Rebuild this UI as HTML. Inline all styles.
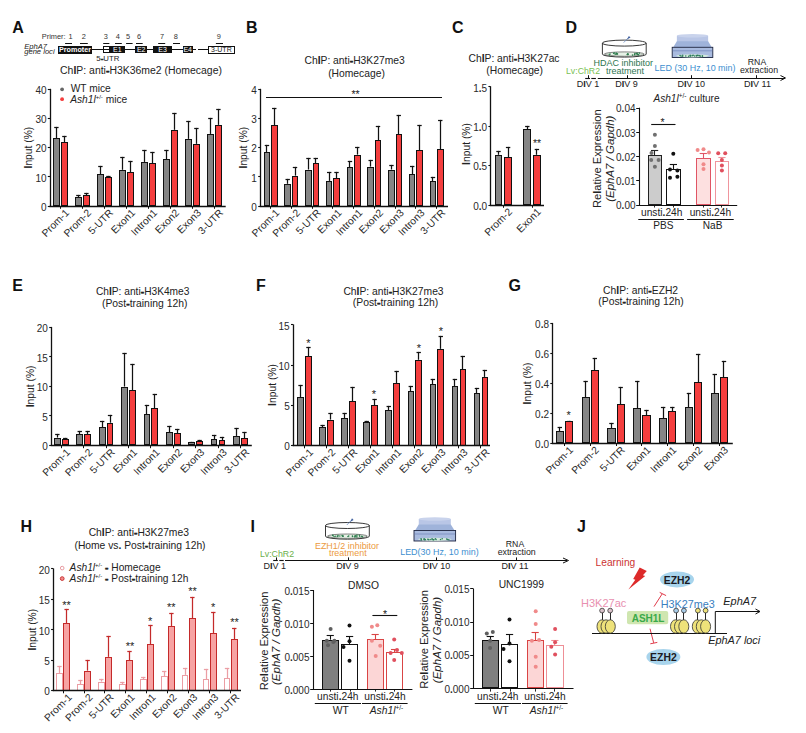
<!DOCTYPE html><html><head><meta charset="utf-8"><style>html,body{margin:0;padding:0;background:#fff;width:806px;height:733px;overflow:hidden}svg{display:block}</style></head><body><svg width="806" height="733" viewBox="0 0 806 733" font-family='"Liberation Sans", sans-serif'>
<rect width="806" height="733" fill="#fff"/>
<text x="12.20" y="32.60" font-size="16" text-anchor="start" font-weight="bold" font-style="normal" fill="#111" >A</text>
<text x="246.00" y="33.00" font-size="16" text-anchor="start" font-weight="bold" font-style="normal" fill="#111" >B</text>
<text x="452.00" y="32.50" font-size="16" text-anchor="start" font-weight="bold" font-style="normal" fill="#111" >C</text>
<text x="565.50" y="32.90" font-size="16" text-anchor="start" font-weight="bold" font-style="normal" fill="#111" >D</text>
<text x="12.20" y="291.00" font-size="16" text-anchor="start" font-weight="bold" font-style="normal" fill="#111" >E</text>
<text x="256.00" y="291.00" font-size="16" text-anchor="start" font-weight="bold" font-style="normal" fill="#111" >F</text>
<text x="508.50" y="291.00" font-size="16" text-anchor="start" font-weight="bold" font-style="normal" fill="#111" >G</text>
<text x="20.60" y="531.80" font-size="16" text-anchor="start" font-weight="bold" font-style="normal" fill="#111" >H</text>
<text x="250.50" y="532.00" font-size="16" text-anchor="start" font-weight="bold" font-style="normal" fill="#111" >I</text>
<text x="577.00" y="531.80" font-size="16" text-anchor="start" font-weight="bold" font-style="normal" fill="#111" >J</text>
<text x="41.80" y="39.20" font-size="7.4" text-anchor="start" font-weight="normal" font-style="normal" fill="#333" >Primer:</text>
<text x="70.50" y="39.30" font-size="7.4" text-anchor="middle" font-weight="normal" font-style="normal" fill="#333" >1</text>
<text x="83.80" y="39.30" font-size="7.4" text-anchor="middle" font-weight="normal" font-style="normal" fill="#333" >2</text>
<text x="105.70" y="39.30" font-size="7.4" text-anchor="middle" font-weight="normal" font-style="normal" fill="#333" >3</text>
<text x="117.70" y="39.30" font-size="7.4" text-anchor="middle" font-weight="normal" font-style="normal" fill="#333" >4</text>
<text x="128.00" y="39.30" font-size="7.4" text-anchor="middle" font-weight="normal" font-style="normal" fill="#333" >5</text>
<text x="139.10" y="39.30" font-size="7.4" text-anchor="middle" font-weight="normal" font-style="normal" fill="#333" >6</text>
<text x="162.00" y="39.30" font-size="7.4" text-anchor="middle" font-weight="normal" font-style="normal" fill="#333" >7</text>
<text x="175.90" y="39.30" font-size="7.4" text-anchor="middle" font-weight="normal" font-style="normal" fill="#333" >8</text>
<text x="218.90" y="39.30" font-size="7.4" text-anchor="middle" font-weight="normal" font-style="normal" fill="#333" >9</text>
<line x1="65.10" y1="43.50" x2="72.00" y2="43.50" stroke="#111" stroke-width="1" />
<line x1="80.00" y1="43.50" x2="87.80" y2="43.50" stroke="#111" stroke-width="1" />
<line x1="103.20" y1="43.50" x2="109.40" y2="43.50" stroke="#111" stroke-width="1" />
<line x1="115.00" y1="43.50" x2="121.80" y2="43.50" stroke="#111" stroke-width="1" />
<line x1="126.10" y1="43.50" x2="132.60" y2="43.50" stroke="#111" stroke-width="1" />
<line x1="136.00" y1="43.50" x2="142.70" y2="43.50" stroke="#111" stroke-width="1" />
<line x1="158.20" y1="43.50" x2="165.20" y2="43.50" stroke="#111" stroke-width="1" />
<line x1="173.00" y1="43.50" x2="180.00" y2="43.50" stroke="#111" stroke-width="1" />
<line x1="215.90" y1="43.50" x2="223.00" y2="43.50" stroke="#111" stroke-width="1" />
<text x="24.20" y="48.60" font-size="7.6" text-anchor="start" font-weight="normal" font-style="italic" fill="#222" >EphA7</text>
<text x="24.20" y="54.00" font-size="7.6" text-anchor="start" font-weight="normal" font-style="italic" fill="#222" >gene loci</text>
<line x1="91.80" y1="49.50" x2="192.80" y2="49.50" stroke="#111" stroke-width="1" />
<line x1="192.80" y1="49.50" x2="196.00" y2="49.50" stroke="#111" stroke-width="1" />
<line x1="198.00" y1="49.50" x2="208.00" y2="49.50" stroke="#111" stroke-width="1" />
<rect x="58.50" y="46.50" width="33.00" height="7.00" fill="#111" stroke="#111" stroke-width="1.0"/>
<text x="75.00" y="52.30" font-size="7.2" text-anchor="middle" font-weight="bold" font-style="normal" fill="#fff" >Promoter</text>
<rect x="103.50" y="46.50" width="6.00" height="6.00" fill="#fff" stroke="#111" stroke-width="1.0"/>
<line x1="103.20" y1="49.50" x2="109.90" y2="49.50" stroke="#111" stroke-width="1" />
<rect x="110.50" y="46.50" width="14.00" height="6.00" fill="#111" stroke="#111" stroke-width="1.0"/>
<text x="117.40" y="52.20" font-size="7" text-anchor="middle" font-weight="normal" font-style="normal" fill="#fff" >E1</text>
<rect x="135.50" y="46.50" width="11.00" height="6.00" fill="#111" stroke="#111" stroke-width="1.0"/>
<text x="141.20" y="52.20" font-size="7" text-anchor="middle" font-weight="normal" font-style="normal" fill="#fff" >E2</text>
<rect x="153.50" y="46.50" width="18.00" height="6.00" fill="#111" stroke="#111" stroke-width="1.0"/>
<text x="162.50" y="52.20" font-size="7" text-anchor="middle" font-weight="normal" font-style="normal" fill="#fff" >E3</text>
<rect x="183.50" y="46.50" width="9.00" height="6.00" fill="#111" stroke="#111" stroke-width="1.0"/>
<text x="187.70" y="52.20" font-size="7" text-anchor="middle" font-weight="normal" font-style="normal" fill="#fff" >E4</text>
<rect x="208.50" y="46.50" width="26.00" height="7.00" fill="#fff" stroke="#111" stroke-width="1.0"/>
<text x="221.40" y="52.40" font-size="7" text-anchor="middle" font-weight="normal" font-style="normal" fill="#222" >3-UTR</text>
<text x="107.80" y="61.20" font-size="7.8" text-anchor="middle" font-weight="normal" font-style="normal" fill="#222" >5<tspan font-weight="bold" stroke="#222" stroke-width="0.5">-</tspan>UTR</text>
<text x="141.00" y="74.40" font-size="10.45" text-anchor="middle" font-weight="normal" font-style="normal" fill="#222" >Ch<tspan font-weight="bold">I</tspan>P: anti<tspan font-weight="bold" stroke="#222" stroke-width="0.5">-</tspan>H3K36me2 (Homecage)</text>
<circle cx="62.1" cy="89.3" r="1.9" fill="#666"/>
<circle cx="62.1" cy="99.2" r="1.9" fill="#f43e3e"/>
<text x="70.70" y="92.30" font-size="10.2" text-anchor="start" font-weight="normal" font-style="normal" fill="#222" >WT mice</text>
<text x="70.20" y="102.50" font-size="10.2" text-anchor="start" font-weight="normal" font-style="normal" fill="#222" ><tspan font-style="italic">Ash1l</tspan><tspan font-size="6" dy="-4">+/-</tspan><tspan dy="4"> mice</tspan></text>
<line x1="56.50" y1="138.02" x2="56.50" y2="126.90" stroke="#111" stroke-width="1.25"/>
<line x1="54.20" y1="127.50" x2="58.60" y2="127.50" stroke="#111" stroke-width="1.25" />
<rect x="53.50" y="138.50" width="6.00" height="67.00" fill="#858585" stroke="#111" stroke-width="1.0"/>
<line x1="78.50" y1="196.96" x2="78.50" y2="194.90" stroke="#111" stroke-width="1.25"/>
<line x1="76.20" y1="195.50" x2="80.60" y2="195.50" stroke="#111" stroke-width="1.25" />
<rect x="75.50" y="197.50" width="6.00" height="8.00" fill="#858585" stroke="#111" stroke-width="1.0"/>
<line x1="100.50" y1="174.20" x2="100.50" y2="165.90" stroke="#111" stroke-width="1.25"/>
<line x1="98.20" y1="166.50" x2="102.60" y2="166.50" stroke="#111" stroke-width="1.25" />
<rect x="97.50" y="174.50" width="6.00" height="31.00" fill="#858585" stroke="#111" stroke-width="1.0"/>
<line x1="122.50" y1="169.82" x2="122.50" y2="156.90" stroke="#111" stroke-width="1.25"/>
<line x1="120.20" y1="157.50" x2="124.60" y2="157.50" stroke="#111" stroke-width="1.25" />
<rect x="119.50" y="170.50" width="6.00" height="35.00" fill="#858585" stroke="#111" stroke-width="1.0"/>
<line x1="144.50" y1="161.95" x2="144.50" y2="149.90" stroke="#111" stroke-width="1.25"/>
<line x1="142.20" y1="150.50" x2="146.60" y2="150.50" stroke="#111" stroke-width="1.25" />
<rect x="141.50" y="162.50" width="6.00" height="43.00" fill="#858585" stroke="#111" stroke-width="1.0"/>
<line x1="166.50" y1="159.03" x2="166.50" y2="149.90" stroke="#111" stroke-width="1.25"/>
<line x1="164.20" y1="150.50" x2="168.60" y2="150.50" stroke="#111" stroke-width="1.25" />
<rect x="163.50" y="159.50" width="6.00" height="46.00" fill="#858585" stroke="#111" stroke-width="1.0"/>
<line x1="188.50" y1="138.90" x2="188.50" y2="120.90" stroke="#111" stroke-width="1.25"/>
<line x1="186.20" y1="121.50" x2="190.60" y2="121.50" stroke="#111" stroke-width="1.25" />
<rect x="185.50" y="139.50" width="6.00" height="66.00" fill="#858585" stroke="#111" stroke-width="1.0"/>
<line x1="210.50" y1="133.94" x2="210.50" y2="117.90" stroke="#111" stroke-width="1.25"/>
<line x1="208.20" y1="118.50" x2="212.60" y2="118.50" stroke="#111" stroke-width="1.25" />
<rect x="207.50" y="134.50" width="6.00" height="71.00" fill="#858585" stroke="#111" stroke-width="1.0"/>
<line x1="64.50" y1="142.11" x2="64.50" y2="135.90" stroke="#111" stroke-width="1.25"/>
<line x1="62.20" y1="136.50" x2="66.60" y2="136.50" stroke="#111" stroke-width="1.25" />
<rect x="61.50" y="142.50" width="6.00" height="63.00" fill="#f43e3e" stroke="#111" stroke-width="1.0"/>
<line x1="86.50" y1="195.21" x2="86.50" y2="192.90" stroke="#111" stroke-width="1.25"/>
<line x1="84.20" y1="193.50" x2="88.60" y2="193.50" stroke="#111" stroke-width="1.25" />
<rect x="83.50" y="195.50" width="6.00" height="10.00" fill="#f43e3e" stroke="#111" stroke-width="1.0"/>
<line x1="108.50" y1="177.12" x2="108.50" y2="175.90" stroke="#111" stroke-width="1.25"/>
<line x1="106.20" y1="176.50" x2="110.60" y2="176.50" stroke="#111" stroke-width="1.25" />
<rect x="105.50" y="177.50" width="6.00" height="28.00" fill="#f43e3e" stroke="#111" stroke-width="1.0"/>
<line x1="130.50" y1="172.16" x2="130.50" y2="160.90" stroke="#111" stroke-width="1.25"/>
<line x1="128.20" y1="161.50" x2="132.60" y2="161.50" stroke="#111" stroke-width="1.25" />
<rect x="127.50" y="172.50" width="6.00" height="33.00" fill="#f43e3e" stroke="#111" stroke-width="1.0"/>
<line x1="152.50" y1="163.11" x2="152.50" y2="151.90" stroke="#111" stroke-width="1.25"/>
<line x1="150.20" y1="152.50" x2="154.60" y2="152.50" stroke="#111" stroke-width="1.25" />
<rect x="149.50" y="163.50" width="6.00" height="42.00" fill="#f43e3e" stroke="#111" stroke-width="1.0"/>
<line x1="174.50" y1="129.85" x2="174.50" y2="112.90" stroke="#111" stroke-width="1.25"/>
<line x1="172.20" y1="113.50" x2="176.60" y2="113.50" stroke="#111" stroke-width="1.25" />
<rect x="171.50" y="130.50" width="6.00" height="75.00" fill="#f43e3e" stroke="#111" stroke-width="1.0"/>
<line x1="196.50" y1="143.86" x2="196.50" y2="127.90" stroke="#111" stroke-width="1.25"/>
<line x1="194.20" y1="128.50" x2="198.60" y2="128.50" stroke="#111" stroke-width="1.25" />
<rect x="193.50" y="144.50" width="6.00" height="61.00" fill="#f43e3e" stroke="#111" stroke-width="1.0"/>
<line x1="218.50" y1="124.89" x2="218.50" y2="108.90" stroke="#111" stroke-width="1.25"/>
<line x1="216.20" y1="109.50" x2="220.60" y2="109.50" stroke="#111" stroke-width="1.25" />
<rect x="215.50" y="125.50" width="6.00" height="80.00" fill="#f43e3e" stroke="#111" stroke-width="1.0"/>
<line x1="50.50" y1="88.80" x2="50.50" y2="206.60" stroke="#111" stroke-width="1.3" />
<line x1="49.40" y1="206.50" x2="225.70" y2="206.50" stroke="#111" stroke-width="1.3" />
<line x1="47.80" y1="206.50" x2="50.00" y2="206.50" stroke="#111" stroke-width="1.1" />
<text x="46.50" y="210.80" font-size="10" text-anchor="end" font-weight="normal" font-style="normal" fill="#2a2a2a" >0</text>
<line x1="47.80" y1="176.50" x2="50.00" y2="176.50" stroke="#111" stroke-width="1.1" />
<text x="46.50" y="181.62" font-size="10" text-anchor="end" font-weight="normal" font-style="normal" fill="#2a2a2a" >10</text>
<line x1="47.80" y1="147.50" x2="50.00" y2="147.50" stroke="#111" stroke-width="1.1" />
<text x="46.50" y="152.45" font-size="10" text-anchor="end" font-weight="normal" font-style="normal" fill="#2a2a2a" >20</text>
<line x1="47.80" y1="118.50" x2="50.00" y2="118.50" stroke="#111" stroke-width="1.1" />
<text x="46.50" y="123.27" font-size="10" text-anchor="end" font-weight="normal" font-style="normal" fill="#2a2a2a" >30</text>
<line x1="47.80" y1="89.50" x2="50.00" y2="89.50" stroke="#111" stroke-width="1.1" />
<text x="46.50" y="94.10" font-size="10" text-anchor="end" font-weight="normal" font-style="normal" fill="#2a2a2a" >40</text>
<line x1="60.50" y1="206.00" x2="60.50" y2="208.80" stroke="#111" stroke-width="1" />
<line x1="82.50" y1="206.00" x2="82.50" y2="208.80" stroke="#111" stroke-width="1" />
<line x1="104.50" y1="206.00" x2="104.50" y2="208.80" stroke="#111" stroke-width="1" />
<line x1="126.50" y1="206.00" x2="126.50" y2="208.80" stroke="#111" stroke-width="1" />
<line x1="148.50" y1="206.00" x2="148.50" y2="208.80" stroke="#111" stroke-width="1" />
<line x1="170.50" y1="206.00" x2="170.50" y2="208.80" stroke="#111" stroke-width="1" />
<line x1="192.50" y1="206.00" x2="192.50" y2="208.80" stroke="#111" stroke-width="1" />
<line x1="214.50" y1="206.00" x2="214.50" y2="208.80" stroke="#111" stroke-width="1" />
<text transform="translate(69.80,213.50) rotate(-45)" font-size="10.3" text-anchor="end" fill="#2a2a2a">Prom-1</text>
<text transform="translate(91.80,213.50) rotate(-45)" font-size="10.3" text-anchor="end" fill="#2a2a2a">Prom-2</text>
<text transform="translate(113.80,213.50) rotate(-45)" font-size="10.3" text-anchor="end" fill="#2a2a2a">5-UTR</text>
<text transform="translate(135.80,213.50) rotate(-45)" font-size="10.3" text-anchor="end" fill="#2a2a2a">Exon1</text>
<text transform="translate(157.80,213.50) rotate(-45)" font-size="10.3" text-anchor="end" fill="#2a2a2a">Intron1</text>
<text transform="translate(179.80,213.50) rotate(-45)" font-size="10.3" text-anchor="end" fill="#2a2a2a">Exon2</text>
<text transform="translate(201.80,213.50) rotate(-45)" font-size="10.3" text-anchor="end" fill="#2a2a2a">Exon3</text>
<text transform="translate(223.80,213.50) rotate(-45)" font-size="10.3" text-anchor="end" fill="#2a2a2a">3-UTR</text>
<text transform="translate(31.51,147.60) rotate(-90)" font-size="10.3" text-anchor="middle" font-style="normal" fill="#222"><tspan font-weight="bold">I</tspan>nput (%)</text>
<text x="354.60" y="64.00" font-size="10.3" text-anchor="middle" font-weight="normal" font-style="normal" fill="#222" >Ch<tspan font-weight="bold">I</tspan>P: anti<tspan font-weight="bold" stroke="#222" stroke-width="0.5">-</tspan>H3K27me3</text>
<text x="356.50" y="76.90" font-size="10.3" text-anchor="middle" font-weight="normal" font-style="normal" fill="#222" >(Homecage)</text>
<line x1="266.50" y1="152.32" x2="266.50" y2="144.90" stroke="#111" stroke-width="1.25"/>
<line x1="264.75" y1="145.50" x2="269.15" y2="145.50" stroke="#111" stroke-width="1.25" />
<rect x="264.50" y="152.50" width="5.00" height="53.00" fill="#858585" stroke="#111" stroke-width="1.0"/>
<line x1="287.50" y1="183.83" x2="287.50" y2="178.90" stroke="#111" stroke-width="1.25"/>
<line x1="285.50" y1="179.50" x2="289.90" y2="179.50" stroke="#111" stroke-width="1.25" />
<rect x="284.50" y="184.50" width="6.00" height="21.00" fill="#858585" stroke="#111" stroke-width="1.0"/>
<line x1="308.50" y1="169.53" x2="308.50" y2="157.90" stroke="#111" stroke-width="1.25"/>
<line x1="306.25" y1="158.50" x2="310.65" y2="158.50" stroke="#111" stroke-width="1.25" />
<rect x="305.50" y="170.50" width="6.00" height="35.00" fill="#858585" stroke="#111" stroke-width="1.0"/>
<line x1="329.50" y1="180.91" x2="329.50" y2="171.90" stroke="#111" stroke-width="1.25"/>
<line x1="327.00" y1="172.50" x2="331.40" y2="172.50" stroke="#111" stroke-width="1.25" />
<rect x="326.50" y="181.50" width="5.00" height="24.00" fill="#858585" stroke="#111" stroke-width="1.0"/>
<line x1="349.50" y1="167.49" x2="349.50" y2="160.90" stroke="#111" stroke-width="1.25"/>
<line x1="347.75" y1="161.50" x2="352.15" y2="161.50" stroke="#111" stroke-width="1.25" />
<rect x="347.50" y="167.50" width="5.00" height="38.00" fill="#858585" stroke="#111" stroke-width="1.0"/>
<line x1="370.50" y1="166.61" x2="370.50" y2="159.90" stroke="#111" stroke-width="1.25"/>
<line x1="368.50" y1="160.50" x2="372.90" y2="160.50" stroke="#111" stroke-width="1.25" />
<rect x="367.50" y="167.50" width="6.00" height="38.00" fill="#858585" stroke="#111" stroke-width="1.0"/>
<line x1="391.50" y1="169.53" x2="391.50" y2="164.90" stroke="#111" stroke-width="1.25"/>
<line x1="389.25" y1="165.50" x2="393.65" y2="165.50" stroke="#111" stroke-width="1.25" />
<rect x="388.50" y="170.50" width="6.00" height="35.00" fill="#858585" stroke="#111" stroke-width="1.0"/>
<line x1="412.50" y1="174.49" x2="412.50" y2="165.90" stroke="#111" stroke-width="1.25"/>
<line x1="410.00" y1="166.50" x2="414.40" y2="166.50" stroke="#111" stroke-width="1.25" />
<rect x="409.50" y="174.50" width="5.00" height="31.00" fill="#858585" stroke="#111" stroke-width="1.0"/>
<line x1="432.50" y1="181.49" x2="432.50" y2="176.90" stroke="#111" stroke-width="1.25"/>
<line x1="430.75" y1="177.50" x2="435.15" y2="177.50" stroke="#111" stroke-width="1.25" />
<rect x="430.50" y="181.50" width="5.00" height="24.00" fill="#858585" stroke="#111" stroke-width="1.0"/>
<line x1="274.50" y1="125.19" x2="274.50" y2="107.90" stroke="#111" stroke-width="1.25"/>
<line x1="272.05" y1="108.50" x2="276.45" y2="108.50" stroke="#111" stroke-width="1.25" />
<rect x="271.50" y="125.50" width="6.00" height="80.00" fill="#f43e3e" stroke="#111" stroke-width="1.0"/>
<line x1="295.50" y1="175.66" x2="295.50" y2="166.90" stroke="#111" stroke-width="1.25"/>
<line x1="292.80" y1="167.50" x2="297.20" y2="167.50" stroke="#111" stroke-width="1.25" />
<rect x="292.50" y="176.50" width="5.00" height="29.00" fill="#f43e3e" stroke="#111" stroke-width="1.0"/>
<line x1="315.50" y1="163.40" x2="315.50" y2="157.90" stroke="#111" stroke-width="1.25"/>
<line x1="313.55" y1="158.50" x2="317.95" y2="158.50" stroke="#111" stroke-width="1.25" />
<rect x="313.50" y="163.50" width="5.00" height="42.00" fill="#f43e3e" stroke="#111" stroke-width="1.0"/>
<line x1="336.50" y1="177.99" x2="336.50" y2="171.90" stroke="#111" stroke-width="1.25"/>
<line x1="334.30" y1="172.50" x2="338.70" y2="172.50" stroke="#111" stroke-width="1.25" />
<rect x="333.50" y="178.50" width="6.00" height="27.00" fill="#f43e3e" stroke="#111" stroke-width="1.0"/>
<line x1="357.50" y1="154.65" x2="357.50" y2="146.90" stroke="#111" stroke-width="1.25"/>
<line x1="355.05" y1="147.50" x2="359.45" y2="147.50" stroke="#111" stroke-width="1.25" />
<rect x="354.50" y="155.50" width="6.00" height="50.00" fill="#f43e3e" stroke="#111" stroke-width="1.0"/>
<line x1="378.50" y1="140.36" x2="378.50" y2="125.90" stroke="#111" stroke-width="1.25"/>
<line x1="375.80" y1="126.50" x2="380.20" y2="126.50" stroke="#111" stroke-width="1.25" />
<rect x="375.50" y="140.50" width="5.00" height="65.00" fill="#f43e3e" stroke="#111" stroke-width="1.0"/>
<line x1="398.50" y1="134.23" x2="398.50" y2="114.90" stroke="#111" stroke-width="1.25"/>
<line x1="396.55" y1="115.50" x2="400.95" y2="115.50" stroke="#111" stroke-width="1.25" />
<rect x="396.50" y="134.50" width="5.00" height="71.00" fill="#f43e3e" stroke="#111" stroke-width="1.0"/>
<line x1="419.50" y1="150.28" x2="419.50" y2="124.90" stroke="#111" stroke-width="1.25"/>
<line x1="417.30" y1="125.50" x2="421.70" y2="125.50" stroke="#111" stroke-width="1.25" />
<rect x="416.50" y="150.50" width="6.00" height="55.00" fill="#f43e3e" stroke="#111" stroke-width="1.0"/>
<line x1="440.50" y1="149.40" x2="440.50" y2="119.90" stroke="#111" stroke-width="1.25"/>
<line x1="438.05" y1="120.50" x2="442.45" y2="120.50" stroke="#111" stroke-width="1.25" />
<rect x="437.50" y="149.50" width="6.00" height="56.00" fill="#f43e3e" stroke="#111" stroke-width="1.0"/>
<line x1="260.50" y1="88.80" x2="260.50" y2="206.60" stroke="#111" stroke-width="1.3" />
<line x1="259.80" y1="206.50" x2="448.00" y2="206.50" stroke="#111" stroke-width="1.3" />
<line x1="258.20" y1="206.50" x2="260.40" y2="206.50" stroke="#111" stroke-width="1.1" />
<text x="256.90" y="210.80" font-size="10" text-anchor="end" font-weight="normal" font-style="normal" fill="#2a2a2a" >0</text>
<line x1="258.20" y1="176.50" x2="260.40" y2="176.50" stroke="#111" stroke-width="1.1" />
<text x="256.90" y="181.62" font-size="10" text-anchor="end" font-weight="normal" font-style="normal" fill="#2a2a2a" >1</text>
<line x1="258.20" y1="147.50" x2="260.40" y2="147.50" stroke="#111" stroke-width="1.1" />
<text x="256.90" y="152.45" font-size="10" text-anchor="end" font-weight="normal" font-style="normal" fill="#2a2a2a" >2</text>
<line x1="258.20" y1="118.50" x2="260.40" y2="118.50" stroke="#111" stroke-width="1.1" />
<text x="256.90" y="123.27" font-size="10" text-anchor="end" font-weight="normal" font-style="normal" fill="#2a2a2a" >3</text>
<line x1="258.20" y1="89.50" x2="260.40" y2="89.50" stroke="#111" stroke-width="1.1" />
<text x="256.90" y="94.10" font-size="10" text-anchor="end" font-weight="normal" font-style="normal" fill="#2a2a2a" >4</text>
<line x1="270.50" y1="206.00" x2="270.50" y2="208.80" stroke="#111" stroke-width="1" />
<line x1="291.50" y1="206.00" x2="291.50" y2="208.80" stroke="#111" stroke-width="1" />
<line x1="312.50" y1="206.00" x2="312.50" y2="208.80" stroke="#111" stroke-width="1" />
<line x1="332.50" y1="206.00" x2="332.50" y2="208.80" stroke="#111" stroke-width="1" />
<line x1="353.50" y1="206.00" x2="353.50" y2="208.80" stroke="#111" stroke-width="1" />
<line x1="374.50" y1="206.00" x2="374.50" y2="208.80" stroke="#111" stroke-width="1" />
<line x1="395.50" y1="206.00" x2="395.50" y2="208.80" stroke="#111" stroke-width="1" />
<line x1="415.50" y1="206.00" x2="415.50" y2="208.80" stroke="#111" stroke-width="1" />
<line x1="436.50" y1="206.00" x2="436.50" y2="208.80" stroke="#111" stroke-width="1" />
<text transform="translate(280.00,213.50) rotate(-45)" font-size="10.3" text-anchor="end" fill="#2a2a2a">Prom-1</text>
<text transform="translate(300.75,213.50) rotate(-45)" font-size="10.3" text-anchor="end" fill="#2a2a2a">Prom-2</text>
<text transform="translate(321.50,213.50) rotate(-45)" font-size="10.3" text-anchor="end" fill="#2a2a2a">5-UTR</text>
<text transform="translate(342.25,213.50) rotate(-45)" font-size="10.3" text-anchor="end" fill="#2a2a2a">Exon1</text>
<text transform="translate(363.00,213.50) rotate(-45)" font-size="10.3" text-anchor="end" fill="#2a2a2a">Intron1</text>
<text transform="translate(383.75,213.50) rotate(-45)" font-size="10.3" text-anchor="end" fill="#2a2a2a">Exon2</text>
<text transform="translate(404.50,213.50) rotate(-45)" font-size="10.3" text-anchor="end" fill="#2a2a2a">Exon3</text>
<text transform="translate(425.25,213.50) rotate(-45)" font-size="10.3" text-anchor="end" fill="#2a2a2a">Intron3</text>
<text transform="translate(446.00,213.50) rotate(-45)" font-size="10.3" text-anchor="end" fill="#2a2a2a">3-UTR</text>
<line x1="266.00" y1="97.50" x2="442.00" y2="97.50" stroke="#111" stroke-width="1.1" />
<text x="355.50" y="98.40" font-size="10.5" text-anchor="middle" font-weight="normal" font-style="normal" fill="#222" >**</text>
<text transform="translate(247.31,147.60) rotate(-90)" font-size="10.3" text-anchor="middle" font-style="normal" fill="#222"><tspan font-weight="bold">I</tspan>nput (%)</text>
<text x="514.00" y="61.50" font-size="10.3" text-anchor="middle" font-weight="normal" font-style="normal" fill="#222" >Ch<tspan font-weight="bold">I</tspan>P: anti<tspan font-weight="bold" stroke="#222" stroke-width="0.5">-</tspan>H3K27ac</text>
<text x="514.70" y="73.80" font-size="10.3" text-anchor="middle" font-weight="normal" font-style="normal" fill="#222" >(Homecage)</text>
<line x1="498.50" y1="154.80" x2="498.50" y2="150.90" stroke="#111" stroke-width="1.25"/>
<line x1="496.30" y1="151.50" x2="500.70" y2="151.50" stroke="#111" stroke-width="1.25" />
<rect x="495.50" y="155.50" width="6.00" height="49.00" fill="#858585" stroke="#111" stroke-width="1.0"/>
<line x1="527.50" y1="129.19" x2="527.50" y2="125.90" stroke="#111" stroke-width="1.25"/>
<line x1="525.10" y1="126.50" x2="529.50" y2="126.50" stroke="#111" stroke-width="1.25" />
<rect x="523.50" y="129.50" width="7.00" height="75.00" fill="#858585" stroke="#111" stroke-width="1.0"/>
<line x1="508.50" y1="157.17" x2="508.50" y2="146.90" stroke="#111" stroke-width="1.25"/>
<line x1="505.90" y1="147.50" x2="510.30" y2="147.50" stroke="#111" stroke-width="1.25" />
<rect x="504.50" y="157.50" width="7.00" height="47.00" fill="#f43e3e" stroke="#111" stroke-width="1.0"/>
<line x1="536.50" y1="154.80" x2="536.50" y2="148.90" stroke="#111" stroke-width="1.25"/>
<line x1="534.70" y1="149.50" x2="539.10" y2="149.50" stroke="#111" stroke-width="1.25" />
<rect x="533.50" y="155.50" width="7.00" height="49.00" fill="#f43e3e" stroke="#111" stroke-width="1.0"/>
<line x1="490.50" y1="86.30" x2="490.50" y2="205.60" stroke="#111" stroke-width="1.3" />
<line x1="490.00" y1="205.50" x2="544.00" y2="205.50" stroke="#111" stroke-width="1.3" />
<line x1="488.40" y1="205.50" x2="490.60" y2="205.50" stroke="#111" stroke-width="1.1" />
<text x="487.10" y="209.80" font-size="10" text-anchor="end" font-weight="normal" font-style="normal" fill="#2a2a2a" >0<tspan font-weight="bold">.</tspan>0</text>
<line x1="488.40" y1="165.50" x2="490.60" y2="165.50" stroke="#111" stroke-width="1.1" />
<text x="487.10" y="170.40" font-size="10" text-anchor="end" font-weight="normal" font-style="normal" fill="#2a2a2a" >0<tspan font-weight="bold">.</tspan>5</text>
<line x1="488.40" y1="126.50" x2="490.60" y2="126.50" stroke="#111" stroke-width="1.1" />
<text x="487.10" y="131.00" font-size="10" text-anchor="end" font-weight="normal" font-style="normal" fill="#2a2a2a" >1<tspan font-weight="bold">.</tspan>0</text>
<line x1="488.40" y1="86.50" x2="490.60" y2="86.50" stroke="#111" stroke-width="1.1" />
<text x="487.10" y="91.60" font-size="10" text-anchor="end" font-weight="normal" font-style="normal" fill="#2a2a2a" >1<tspan font-weight="bold">.</tspan>5</text>
<line x1="503.50" y1="205.00" x2="503.50" y2="207.80" stroke="#111" stroke-width="1" />
<line x1="532.50" y1="205.00" x2="532.50" y2="207.80" stroke="#111" stroke-width="1" />
<text transform="translate(512.70,212.50) rotate(-45)" font-size="10.3" text-anchor="end" fill="#2a2a2a">Prom-2</text>
<text transform="translate(541.50,212.50) rotate(-45)" font-size="10.3" text-anchor="end" fill="#2a2a2a">Exon1</text>
<text x="537.00" y="146.50" font-size="10.5" text-anchor="middle" font-weight="normal" font-style="normal" fill="#222" >**</text>
<text transform="translate(469.71,144.00) rotate(-90)" font-size="10.3" text-anchor="middle" font-style="normal" fill="#222"><tspan font-weight="bold">I</tspan>nput (%)</text>
<path d="M602.40,43.10 L602.40,54.10 A21.90,3.00 0 0 0 646.20,54.10 L646.20,43.10" fill="#fff" stroke="#222" stroke-width="0.9"/>
<ellipse cx="624.30" cy="54.10" rx="19.90" ry="2.20" fill="#e6f2e6" stroke="#333" stroke-width="0.6"/>
<circle cx="614.42" cy="53.07" r="0.8" fill="#2e7d4e"/>
<circle cx="615.20" cy="54.26" r="0.8" fill="#2e7d4e"/>
<circle cx="617.18" cy="53.68" r="0.8" fill="#2e7d4e"/>
<circle cx="627.18" cy="54.44" r="0.8" fill="#2e7d4e"/>
<circle cx="636.26" cy="53.70" r="0.8" fill="#2e7d4e"/>
<circle cx="627.96" cy="54.47" r="0.8" fill="#2e7d4e"/>
<circle cx="638.67" cy="54.71" r="0.8" fill="#2e7d4e"/>
<circle cx="634.61" cy="54.64" r="0.8" fill="#2e7d4e"/>
<circle cx="610.01" cy="54.11" r="0.8" fill="#2e7d4e"/>
<circle cx="637.59" cy="54.30" r="0.8" fill="#2e7d4e"/>
<circle cx="634.90" cy="53.64" r="0.8" fill="#2e7d4e"/>
<circle cx="627.92" cy="54.38" r="0.8" fill="#2e7d4e"/>
<circle cx="616.24" cy="53.16" r="0.8" fill="#2e7d4e"/>
<circle cx="637.03" cy="53.36" r="0.8" fill="#2e7d4e"/>
<circle cx="627.83" cy="53.75" r="0.8" fill="#2e7d4e"/>
<circle cx="638.22" cy="54.87" r="0.8" fill="#2e7d4e"/>
<circle cx="632.52" cy="55.09" r="0.8" fill="#2e7d4e"/>
<circle cx="639.31" cy="53.08" r="0.8" fill="#2e7d4e"/>
<circle cx="613.66" cy="53.36" r="0.8" fill="#2e7d4e"/>
<circle cx="616.74" cy="54.02" r="0.8" fill="#2e7d4e"/>
<circle cx="616.45" cy="53.72" r="0.8" fill="#2e7d4e"/>
<circle cx="617.49" cy="53.97" r="0.8" fill="#2e7d4e"/>
<circle cx="609.28" cy="54.74" r="0.8" fill="#2e7d4e"/>
<circle cx="637.09" cy="53.93" r="0.8" fill="#2e7d4e"/>
<ellipse cx="624.30" cy="43.10" rx="21.90" ry="3.00" fill="none" stroke="#222" stroke-width="0.9"/>
<line x1="623.70" y1="42.60" x2="627.80" y2="38.30" stroke="#6a8ac0" stroke-width="0.8"/>
<path d="M626.90,39.50 L628.90,35.90 L630.50,37.50 Z" fill="#3f5f9f"/>
<path d="M676.87,35.80 L676.87,42.80 L708.13,42.80 L708.13,35.80 Z" fill="#b9c6e6"/>
<ellipse cx="692.50" cy="35.80" rx="15.63" ry="1.8" fill="#c9d3ec"/>
<path d="M676.87,41.30 L673.22,47.30 L711.78,47.30 L708.13,41.30 Z" fill="#9fb3da"/>
<rect x="672.20" y="47.30" width="40.60" height="10.20" fill="#a9bbdf" stroke="#1d2540" stroke-width="0.9"/>
<line x1="672.70" y1="50.80" x2="712.30" y2="50.80" stroke="#6f84b8" stroke-width="0.7"/>
<ellipse cx="692.50" cy="55.80" rx="16.30" ry="1.6" fill="#d6ebdd"/>
<circle cx="688.70" cy="56.29" r="0.8" fill="#2e7d5e"/>
<circle cx="696.61" cy="55.85" r="0.8" fill="#2e7d5e"/>
<circle cx="682.64" cy="56.24" r="0.8" fill="#2e7d5e"/>
<circle cx="690.20" cy="55.39" r="0.8" fill="#2e7d5e"/>
<circle cx="697.65" cy="55.39" r="0.8" fill="#2e7d5e"/>
<circle cx="693.19" cy="55.26" r="0.8" fill="#2e7d5e"/>
<circle cx="702.34" cy="55.94" r="0.8" fill="#2e7d5e"/>
<circle cx="694.65" cy="56.00" r="0.8" fill="#2e7d5e"/>
<circle cx="690.40" cy="55.75" r="0.8" fill="#2e7d5e"/>
<circle cx="696.41" cy="55.59" r="0.8" fill="#2e7d5e"/>
<circle cx="690.51" cy="56.01" r="0.8" fill="#2e7d5e"/>
<circle cx="681.07" cy="56.08" r="0.8" fill="#2e7d5e"/>
<circle cx="702.46" cy="56.15" r="0.8" fill="#2e7d5e"/>
<circle cx="685.79" cy="55.97" r="0.8" fill="#2e7d5e"/>
<circle cx="692.24" cy="55.65" r="0.8" fill="#2e7d5e"/>
<circle cx="698.98" cy="55.52" r="0.8" fill="#2e7d5e"/>
<circle cx="700.35" cy="56.09" r="0.8" fill="#2e7d5e"/>
<circle cx="682.71" cy="55.25" r="0.8" fill="#2e7d5e"/>
<circle cx="680.08" cy="55.54" r="0.8" fill="#2e7d5e"/>
<circle cx="699.32" cy="55.76" r="0.8" fill="#2e7d5e"/>
<line x1="585.20" y1="78.50" x2="590.00" y2="78.50" stroke="#111" stroke-width="1.1" />
<line x1="591.30" y1="78.50" x2="595.90" y2="78.50" stroke="#111" stroke-width="1.1" />
<line x1="597.80" y1="78.50" x2="784.00" y2="78.50" stroke="#111" stroke-width="1.1" />
<path d="M780.5,75.5 L785.5,78 L780.5,80.5" fill="none" stroke="#111" stroke-width="1"/>
<line x1="588.50" y1="78.00" x2="588.50" y2="75.20" stroke="#111" stroke-width="1" />
<line x1="627.50" y1="78.00" x2="627.50" y2="75.20" stroke="#111" stroke-width="1" />
<line x1="691.50" y1="78.00" x2="691.50" y2="75.20" stroke="#111" stroke-width="1" />
<line x1="756.50" y1="78.00" x2="756.50" y2="75.20" stroke="#111" stroke-width="1" />
<text x="588.00" y="87.40" font-size="9" text-anchor="middle" font-weight="normal" font-style="normal" fill="#222" >D<tspan font-weight="bold">I</tspan>V 1</text>
<text x="626.50" y="87.40" font-size="9" text-anchor="middle" font-weight="normal" font-style="normal" fill="#222" >D<tspan font-weight="bold">I</tspan>V 9</text>
<text x="691.30" y="87.40" font-size="9" text-anchor="middle" font-weight="normal" font-style="normal" fill="#222" >D<tspan font-weight="bold">I</tspan>V 10</text>
<text x="757.50" y="87.40" font-size="9" text-anchor="middle" font-weight="normal" font-style="normal" fill="#222" >D<tspan font-weight="bold">I</tspan>V 11</text>
<text x="583.00" y="73.70" font-size="8.75" text-anchor="middle" font-weight="normal" font-style="normal" fill="#7abf55" >Lv:ChR2</text>
<text x="623.30" y="66.10" font-size="9" text-anchor="middle" font-weight="normal" font-style="normal" fill="#2d7650" >HDAC inhibitor</text>
<text x="625.00" y="74.10" font-size="9" text-anchor="middle" font-weight="normal" font-style="normal" fill="#2d7650" >treatment</text>
<text x="695.00" y="70.60" font-size="8.95" text-anchor="middle" font-weight="normal" font-style="normal" fill="#3d8fd0" >LED (30 Hz, 10 min)</text>
<text x="757.00" y="64.50" font-size="8.7" text-anchor="middle" font-weight="normal" font-style="normal" fill="#222" >RNA</text>
<text x="759.00" y="72.80" font-size="8.8" text-anchor="middle" font-weight="normal" font-style="normal" fill="#222" >extraction</text>
<text x="686.50" y="102.20" font-size="10.1" text-anchor="middle" font-weight="normal" font-style="normal" fill="#222" ><tspan font-style="italic">Ash1l</tspan><tspan font-size="6.5" dy="-4">+/-</tspan><tspan dy="4"> culture</tspan></text>
<rect x="648.50" y="155.50" width="13.00" height="49.00" fill="#cccccc" stroke="#222" stroke-width="1.0"/>
<line x1="654.50" y1="155.15" x2="654.50" y2="150.00" stroke="#222" stroke-width="1.1"/>
<line x1="651.00" y1="150.50" x2="658.20" y2="150.50" stroke="#222" stroke-width="1.1" />
<circle cx="654.90" cy="134.80" r="2.0" fill="#707070"/>
<circle cx="654.90" cy="145.90" r="2.0" fill="#707070"/>
<circle cx="651.20" cy="159.90" r="2.0" fill="#707070"/>
<circle cx="658.60" cy="159.90" r="2.0" fill="#707070"/>
<circle cx="654.90" cy="166.70" r="2.0" fill="#707070"/>
<circle cx="651.50" cy="153.00" r="2.0" fill="#707070"/>
<rect x="666.50" y="169.50" width="14.00" height="35.00" fill="#fff" stroke="#111" stroke-width="1.0"/>
<line x1="673.50" y1="169.43" x2="673.50" y2="164.00" stroke="#111" stroke-width="1.1"/>
<line x1="669.80" y1="164.50" x2="677.00" y2="164.50" stroke="#111" stroke-width="1.1" />
<circle cx="673.30" cy="153.80" r="2.0" fill="#111"/>
<circle cx="670.00" cy="169.50" r="2.0" fill="#111"/>
<circle cx="677.40" cy="170.40" r="2.0" fill="#111"/>
<circle cx="670.00" cy="177.70" r="2.0" fill="#111"/>
<circle cx="677.40" cy="176.80" r="2.0" fill="#111"/>
<rect x="696.50" y="158.50" width="14.00" height="46.00" fill="#fde0e0" stroke="#e05565" stroke-width="1.0"/>
<line x1="703.50" y1="158.05" x2="703.50" y2="153.00" stroke="#e05565" stroke-width="1.1"/>
<line x1="699.70" y1="153.50" x2="706.90" y2="153.50" stroke="#e05565" stroke-width="1.1" />
<circle cx="697.60" cy="150.10" r="2.0" fill="#f08a8a"/>
<circle cx="703.50" cy="149.20" r="2.0" fill="#f08a8a"/>
<circle cx="709.00" cy="152.50" r="2.0" fill="#f08a8a"/>
<circle cx="703.50" cy="164.30" r="2.0" fill="#f08a8a"/>
<circle cx="703.50" cy="169.10" r="2.0" fill="#f08a8a"/>
<rect x="715.50" y="161.50" width="13.00" height="43.00" fill="#fff" stroke="#f0959d" stroke-width="1.0"/>
<line x1="721.50" y1="161.20" x2="721.50" y2="157.00" stroke="#f0959d" stroke-width="1.1"/>
<line x1="718.35" y1="157.50" x2="725.55" y2="157.50" stroke="#f0959d" stroke-width="1.1" />
<circle cx="718.20" cy="153.30" r="2.0" fill="#e0505e"/>
<circle cx="725.20" cy="153.30" r="2.0" fill="#e0505e"/>
<circle cx="721.90" cy="159.90" r="2.0" fill="#e0505e"/>
<circle cx="721.90" cy="165.40" r="2.0" fill="#e0505e"/>
<circle cx="721.90" cy="170.40" r="2.0" fill="#e0505e"/>
<line x1="639.50" y1="107.70" x2="639.50" y2="205.50" stroke="#111" stroke-width="1.1" />
<line x1="638.50" y1="205.50" x2="737.20" y2="205.50" stroke="#111" stroke-width="1.1" />
<line x1="636.20" y1="205.50" x2="639.00" y2="205.50" stroke="#111" stroke-width="1" />
<text x="635.50" y="209.10" font-size="10" text-anchor="end" font-weight="normal" font-style="normal" fill="#2a2a2a" >0<tspan font-weight="bold">.</tspan>00</text>
<line x1="636.20" y1="180.50" x2="639.00" y2="180.50" stroke="#111" stroke-width="1" />
<text x="635.50" y="184.90" font-size="10" text-anchor="end" font-weight="normal" font-style="normal" fill="#2a2a2a" >0<tspan font-weight="bold">.</tspan>01</text>
<line x1="636.20" y1="156.50" x2="639.00" y2="156.50" stroke="#111" stroke-width="1" />
<text x="635.50" y="160.70" font-size="10" text-anchor="end" font-weight="normal" font-style="normal" fill="#2a2a2a" >0<tspan font-weight="bold">.</tspan>02</text>
<line x1="636.20" y1="132.50" x2="639.00" y2="132.50" stroke="#111" stroke-width="1" />
<text x="635.50" y="136.50" font-size="10" text-anchor="end" font-weight="normal" font-style="normal" fill="#2a2a2a" >0<tspan font-weight="bold">.</tspan>03</text>
<line x1="636.20" y1="108.50" x2="639.00" y2="108.50" stroke="#111" stroke-width="1" />
<text x="635.50" y="112.30" font-size="10" text-anchor="end" font-weight="normal" font-style="normal" fill="#2a2a2a" >0<tspan font-weight="bold">.</tspan>04</text>
<line x1="651.20" y1="124.50" x2="675.50" y2="124.50" stroke="#111" stroke-width="1.1" />
<text x="662.60" y="126.40" font-size="10.5" text-anchor="middle" font-weight="normal" font-style="normal" fill="#222" >*</text>
<text transform="translate(600.60,158.70) rotate(-90)" font-size="11.1" text-anchor="middle" font-style="normal" fill="#222">Re<tspan font-weight="bold">l</tspan>ative Expression</text>
<text transform="translate(613.74,158.70) rotate(-90)" font-size="11.5" text-anchor="middle" font-style="italic" fill="#222">(EphA7 / Gapdh)</text>
<text x="661.70" y="216.30" font-size="10.2" text-anchor="middle" font-weight="normal" font-style="normal" fill="#222" >unsti<tspan font-weight="bold">.</tspan>24h</text>
<line x1="638.30" y1="219.50" x2="683.90" y2="219.50" stroke="#111" stroke-width="1.1" />
<text x="663.30" y="229.30" font-size="10.1" text-anchor="middle" font-weight="normal" font-style="normal" fill="#222" >PBS</text>
<text x="710.40" y="216.30" font-size="10.2" text-anchor="middle" font-weight="normal" font-style="normal" fill="#222" >unsti<tspan font-weight="bold">.</tspan>24h</text>
<line x1="687.10" y1="219.50" x2="733.70" y2="219.50" stroke="#111" stroke-width="1.1" />
<text x="712.60" y="229.30" font-size="10.1" text-anchor="middle" font-weight="normal" font-style="normal" fill="#222" >NaB</text>
<line x1="654.50" y1="205.00" x2="654.50" y2="207.50" stroke="#111" stroke-width="0.9" />
<line x1="673.50" y1="205.00" x2="673.50" y2="207.50" stroke="#111" stroke-width="0.9" />
<line x1="703.50" y1="205.00" x2="703.50" y2="207.50" stroke="#111" stroke-width="0.9" />
<line x1="721.50" y1="205.00" x2="721.50" y2="207.50" stroke="#111" stroke-width="0.9" />
<text x="142.70" y="294.80" font-size="10.2" text-anchor="middle" font-weight="normal" font-style="normal" fill="#222" >Ch<tspan font-weight="bold">I</tspan>P: anti<tspan font-weight="bold" stroke="#222" stroke-width="0.5">-</tspan>H3K4me3</text>
<text x="144.70" y="306.60" font-size="10.4" text-anchor="middle" font-weight="normal" font-style="normal" fill="#222" >(Post<tspan font-weight="bold" stroke="#222" stroke-width="0.5">-</tspan>training 12h)</text>
<line x1="57.50" y1="437.55" x2="57.50" y2="433.90" stroke="#111" stroke-width="1.25"/>
<line x1="55.15" y1="434.50" x2="59.55" y2="434.50" stroke="#111" stroke-width="1.25" />
<rect x="54.50" y="438.50" width="6.00" height="6.00" fill="#858585" stroke="#111" stroke-width="1.0"/>
<line x1="79.50" y1="434.37" x2="79.50" y2="430.90" stroke="#111" stroke-width="1.25"/>
<line x1="77.55" y1="431.50" x2="81.95" y2="431.50" stroke="#111" stroke-width="1.25" />
<rect x="76.50" y="434.50" width="6.00" height="10.00" fill="#858585" stroke="#111" stroke-width="1.0"/>
<line x1="102.50" y1="427.17" x2="102.50" y2="420.90" stroke="#111" stroke-width="1.25"/>
<line x1="99.95" y1="421.50" x2="104.35" y2="421.50" stroke="#111" stroke-width="1.25" />
<rect x="99.50" y="427.50" width="6.00" height="17.00" fill="#858585" stroke="#111" stroke-width="1.0"/>
<line x1="124.50" y1="386.58" x2="124.50" y2="352.90" stroke="#111" stroke-width="1.25"/>
<line x1="122.35" y1="353.50" x2="126.75" y2="353.50" stroke="#111" stroke-width="1.25" />
<rect x="121.50" y="387.50" width="6.00" height="57.00" fill="#858585" stroke="#111" stroke-width="1.0"/>
<line x1="146.50" y1="414.31" x2="146.50" y2="404.90" stroke="#111" stroke-width="1.25"/>
<line x1="144.75" y1="405.50" x2="149.15" y2="405.50" stroke="#111" stroke-width="1.25" />
<rect x="144.50" y="414.50" width="5.00" height="30.00" fill="#858585" stroke="#111" stroke-width="1.0"/>
<line x1="169.50" y1="432.30" x2="169.50" y2="425.90" stroke="#111" stroke-width="1.25"/>
<line x1="167.15" y1="426.50" x2="171.55" y2="426.50" stroke="#111" stroke-width="1.25" />
<rect x="166.50" y="432.50" width="6.00" height="12.00" fill="#858585" stroke="#111" stroke-width="1.0"/>
<line x1="191.50" y1="442.10" x2="191.50" y2="441.90" stroke="#111" stroke-width="1.25"/>
<line x1="189.55" y1="442.50" x2="193.95" y2="442.50" stroke="#111" stroke-width="1.25" />
<rect x="188.50" y="442.50" width="6.00" height="2.00" fill="#858585" stroke="#111" stroke-width="1.0"/>
<line x1="214.50" y1="439.09" x2="214.50" y2="434.90" stroke="#111" stroke-width="1.25"/>
<line x1="211.95" y1="435.50" x2="216.35" y2="435.50" stroke="#111" stroke-width="1.25" />
<rect x="211.50" y="439.50" width="5.00" height="5.00" fill="#858585" stroke="#111" stroke-width="1.0"/>
<line x1="236.50" y1="435.96" x2="236.50" y2="427.90" stroke="#111" stroke-width="1.25"/>
<line x1="234.35" y1="428.50" x2="238.75" y2="428.50" stroke="#111" stroke-width="1.25" />
<rect x="233.50" y="436.50" width="6.00" height="8.00" fill="#858585" stroke="#111" stroke-width="1.0"/>
<line x1="65.50" y1="439.09" x2="65.50" y2="437.90" stroke="#111" stroke-width="1.25"/>
<line x1="63.05" y1="438.50" x2="67.45" y2="438.50" stroke="#111" stroke-width="1.25" />
<rect x="62.50" y="439.50" width="6.00" height="5.00" fill="#f43e3e" stroke="#111" stroke-width="1.0"/>
<line x1="87.50" y1="434.37" x2="87.50" y2="430.90" stroke="#111" stroke-width="1.25"/>
<line x1="85.45" y1="431.50" x2="89.85" y2="431.50" stroke="#111" stroke-width="1.25" />
<rect x="84.50" y="434.50" width="6.00" height="10.00" fill="#f43e3e" stroke="#111" stroke-width="1.0"/>
<line x1="110.50" y1="422.74" x2="110.50" y2="414.90" stroke="#111" stroke-width="1.25"/>
<line x1="107.85" y1="415.50" x2="112.25" y2="415.50" stroke="#111" stroke-width="1.25" />
<rect x="107.50" y="423.50" width="5.00" height="21.00" fill="#f43e3e" stroke="#111" stroke-width="1.0"/>
<line x1="132.50" y1="390.18" x2="132.50" y2="363.90" stroke="#111" stroke-width="1.25"/>
<line x1="130.25" y1="364.50" x2="134.65" y2="364.50" stroke="#111" stroke-width="1.25" />
<rect x="129.50" y="390.50" width="6.00" height="54.00" fill="#f43e3e" stroke="#111" stroke-width="1.0"/>
<line x1="154.50" y1="408.23" x2="154.50" y2="393.90" stroke="#111" stroke-width="1.25"/>
<line x1="152.65" y1="394.50" x2="157.05" y2="394.50" stroke="#111" stroke-width="1.25" />
<rect x="151.50" y="408.50" width="6.00" height="36.00" fill="#f43e3e" stroke="#111" stroke-width="1.0"/>
<line x1="177.50" y1="433.30" x2="177.50" y2="428.90" stroke="#111" stroke-width="1.25"/>
<line x1="175.05" y1="429.50" x2="179.45" y2="429.50" stroke="#111" stroke-width="1.25" />
<rect x="174.50" y="433.50" width="6.00" height="11.00" fill="#f43e3e" stroke="#111" stroke-width="1.0"/>
<line x1="199.50" y1="441.33" x2="199.50" y2="439.90" stroke="#111" stroke-width="1.25"/>
<line x1="197.45" y1="440.50" x2="201.85" y2="440.50" stroke="#111" stroke-width="1.25" />
<rect x="196.50" y="441.50" width="6.00" height="3.00" fill="#f43e3e" stroke="#111" stroke-width="1.0"/>
<line x1="222.50" y1="440.03" x2="222.50" y2="436.90" stroke="#111" stroke-width="1.25"/>
<line x1="219.85" y1="437.50" x2="224.25" y2="437.50" stroke="#111" stroke-width="1.25" />
<rect x="219.50" y="440.50" width="5.00" height="4.00" fill="#f43e3e" stroke="#111" stroke-width="1.0"/>
<line x1="244.50" y1="438.14" x2="244.50" y2="431.90" stroke="#111" stroke-width="1.25"/>
<line x1="242.25" y1="432.50" x2="246.65" y2="432.50" stroke="#111" stroke-width="1.25" />
<rect x="241.50" y="438.50" width="6.00" height="6.00" fill="#f43e3e" stroke="#111" stroke-width="1.0"/>
<line x1="51.50" y1="326.90" x2="51.50" y2="446.00" stroke="#111" stroke-width="1.3" />
<line x1="50.80" y1="445.50" x2="251.80" y2="445.50" stroke="#111" stroke-width="1.3" />
<line x1="49.20" y1="445.50" x2="51.40" y2="445.50" stroke="#111" stroke-width="1.1" />
<text x="47.90" y="450.20" font-size="10" text-anchor="end" font-weight="normal" font-style="normal" fill="#2a2a2a" >0</text>
<line x1="49.20" y1="415.50" x2="51.40" y2="415.50" stroke="#111" stroke-width="1.1" />
<text x="47.90" y="420.70" font-size="10" text-anchor="end" font-weight="normal" font-style="normal" fill="#2a2a2a" >5</text>
<line x1="49.20" y1="386.50" x2="51.40" y2="386.50" stroke="#111" stroke-width="1.1" />
<text x="47.90" y="391.20" font-size="10" text-anchor="end" font-weight="normal" font-style="normal" fill="#2a2a2a" >10</text>
<line x1="49.20" y1="356.50" x2="51.40" y2="356.50" stroke="#111" stroke-width="1.1" />
<text x="47.90" y="361.70" font-size="10" text-anchor="end" font-weight="normal" font-style="normal" fill="#2a2a2a" >15</text>
<line x1="49.20" y1="327.50" x2="51.40" y2="327.50" stroke="#111" stroke-width="1.1" />
<text x="47.90" y="332.20" font-size="10" text-anchor="end" font-weight="normal" font-style="normal" fill="#2a2a2a" >20</text>
<line x1="61.50" y1="445.40" x2="61.50" y2="448.20" stroke="#111" stroke-width="1" />
<line x1="83.50" y1="445.40" x2="83.50" y2="448.20" stroke="#111" stroke-width="1" />
<line x1="106.50" y1="445.40" x2="106.50" y2="448.20" stroke="#111" stroke-width="1" />
<line x1="128.50" y1="445.40" x2="128.50" y2="448.20" stroke="#111" stroke-width="1" />
<line x1="150.50" y1="445.40" x2="150.50" y2="448.20" stroke="#111" stroke-width="1" />
<line x1="173.50" y1="445.40" x2="173.50" y2="448.20" stroke="#111" stroke-width="1" />
<line x1="195.50" y1="445.40" x2="195.50" y2="448.20" stroke="#111" stroke-width="1" />
<line x1="218.50" y1="445.40" x2="218.50" y2="448.20" stroke="#111" stroke-width="1" />
<line x1="240.50" y1="445.40" x2="240.50" y2="448.20" stroke="#111" stroke-width="1" />
<text transform="translate(70.70,452.90) rotate(-45)" font-size="10.3" text-anchor="end" fill="#2a2a2a">Prom-1</text>
<text transform="translate(93.10,452.90) rotate(-45)" font-size="10.3" text-anchor="end" fill="#2a2a2a">Prom-2</text>
<text transform="translate(115.50,452.90) rotate(-45)" font-size="10.3" text-anchor="end" fill="#2a2a2a">5-UTR</text>
<text transform="translate(137.90,452.90) rotate(-45)" font-size="10.3" text-anchor="end" fill="#2a2a2a">Exon1</text>
<text transform="translate(160.30,452.90) rotate(-45)" font-size="10.3" text-anchor="end" fill="#2a2a2a">Intron1</text>
<text transform="translate(182.70,452.90) rotate(-45)" font-size="10.3" text-anchor="end" fill="#2a2a2a">Exon2</text>
<text transform="translate(205.10,452.90) rotate(-45)" font-size="10.3" text-anchor="end" fill="#2a2a2a">Exon3</text>
<text transform="translate(227.50,452.90) rotate(-45)" font-size="10.3" text-anchor="end" fill="#2a2a2a">Intron3</text>
<text transform="translate(249.90,452.90) rotate(-45)" font-size="10.3" text-anchor="end" fill="#2a2a2a">3-UTR</text>
<text transform="translate(33.51,386.40) rotate(-90)" font-size="10.3" text-anchor="middle" font-style="normal" fill="#222"><tspan font-weight="bold">I</tspan>nput (%)</text>
<text x="393.50" y="294.80" font-size="10.3" text-anchor="middle" font-weight="normal" font-style="normal" fill="#222" >Ch<tspan font-weight="bold">I</tspan>P: anti<tspan font-weight="bold" stroke="#222" stroke-width="0.5">-</tspan>H3K27me3</text>
<text x="395.50" y="305.70" font-size="10.4" text-anchor="middle" font-weight="normal" font-style="normal" fill="#222" >(Post<tspan font-weight="bold" stroke="#222" stroke-width="0.5">-</tspan>training 12h)</text>
<line x1="300.50" y1="397.26" x2="300.50" y2="384.90" stroke="#111" stroke-width="1.25"/>
<line x1="298.35" y1="385.50" x2="302.75" y2="385.50" stroke="#111" stroke-width="1.25" />
<rect x="297.50" y="397.50" width="6.00" height="48.00" fill="#858585" stroke="#111" stroke-width="1.0"/>
<line x1="322.50" y1="427.41" x2="322.50" y2="424.90" stroke="#111" stroke-width="1.25"/>
<line x1="320.40" y1="425.50" x2="324.80" y2="425.50" stroke="#111" stroke-width="1.25" />
<rect x="319.50" y="427.50" width="6.00" height="18.00" fill="#858585" stroke="#111" stroke-width="1.0"/>
<line x1="344.50" y1="418.41" x2="344.50" y2="412.90" stroke="#111" stroke-width="1.25"/>
<line x1="342.45" y1="413.50" x2="346.85" y2="413.50" stroke="#111" stroke-width="1.25" />
<rect x="341.50" y="418.50" width="6.00" height="27.00" fill="#858585" stroke="#111" stroke-width="1.0"/>
<line x1="366.50" y1="422.18" x2="366.50" y2="420.90" stroke="#111" stroke-width="1.25"/>
<line x1="364.50" y1="421.50" x2="368.90" y2="421.50" stroke="#111" stroke-width="1.25" />
<rect x="363.50" y="422.50" width="6.00" height="23.00" fill="#858585" stroke="#111" stroke-width="1.0"/>
<line x1="388.50" y1="410.28" x2="388.50" y2="405.90" stroke="#111" stroke-width="1.25"/>
<line x1="386.55" y1="406.50" x2="390.95" y2="406.50" stroke="#111" stroke-width="1.25" />
<rect x="385.50" y="410.50" width="6.00" height="35.00" fill="#858585" stroke="#111" stroke-width="1.0"/>
<line x1="410.50" y1="390.99" x2="410.50" y2="385.90" stroke="#111" stroke-width="1.25"/>
<line x1="408.60" y1="386.50" x2="413.00" y2="386.50" stroke="#111" stroke-width="1.25" />
<rect x="408.50" y="391.50" width="5.00" height="54.00" fill="#858585" stroke="#111" stroke-width="1.0"/>
<line x1="432.50" y1="384.07" x2="432.50" y2="378.90" stroke="#111" stroke-width="1.25"/>
<line x1="430.65" y1="379.50" x2="435.05" y2="379.50" stroke="#111" stroke-width="1.25" />
<rect x="430.50" y="384.50" width="5.00" height="61.00" fill="#858585" stroke="#111" stroke-width="1.0"/>
<line x1="454.50" y1="386.33" x2="454.50" y2="378.90" stroke="#111" stroke-width="1.25"/>
<line x1="452.70" y1="379.50" x2="457.10" y2="379.50" stroke="#111" stroke-width="1.25" />
<rect x="452.50" y="386.50" width="5.00" height="59.00" fill="#858585" stroke="#111" stroke-width="1.0"/>
<line x1="476.50" y1="393.16" x2="476.50" y2="387.90" stroke="#111" stroke-width="1.25"/>
<line x1="474.75" y1="388.50" x2="479.15" y2="388.50" stroke="#111" stroke-width="1.25" />
<rect x="474.50" y="393.50" width="5.00" height="52.00" fill="#858585" stroke="#111" stroke-width="1.0"/>
<line x1="308.50" y1="356.10" x2="308.50" y2="346.90" stroke="#111" stroke-width="1.25"/>
<line x1="306.25" y1="347.50" x2="310.65" y2="347.50" stroke="#111" stroke-width="1.25" />
<rect x="305.50" y="356.50" width="6.00" height="89.00" fill="#f43e3e" stroke="#111" stroke-width="1.0"/>
<line x1="330.50" y1="419.61" x2="330.50" y2="412.90" stroke="#111" stroke-width="1.25"/>
<line x1="328.30" y1="413.50" x2="332.70" y2="413.50" stroke="#111" stroke-width="1.25" />
<rect x="327.50" y="420.50" width="6.00" height="25.00" fill="#f43e3e" stroke="#111" stroke-width="1.0"/>
<line x1="352.50" y1="401.28" x2="352.50" y2="386.90" stroke="#111" stroke-width="1.25"/>
<line x1="350.35" y1="387.50" x2="354.75" y2="387.50" stroke="#111" stroke-width="1.25" />
<rect x="349.50" y="401.50" width="6.00" height="44.00" fill="#f43e3e" stroke="#111" stroke-width="1.0"/>
<line x1="374.50" y1="405.30" x2="374.50" y2="398.90" stroke="#111" stroke-width="1.25"/>
<line x1="372.40" y1="399.50" x2="376.80" y2="399.50" stroke="#111" stroke-width="1.25" />
<rect x="371.50" y="405.50" width="6.00" height="40.00" fill="#f43e3e" stroke="#111" stroke-width="1.0"/>
<line x1="396.50" y1="383.19" x2="396.50" y2="370.90" stroke="#111" stroke-width="1.25"/>
<line x1="394.45" y1="371.50" x2="398.85" y2="371.50" stroke="#111" stroke-width="1.25" />
<rect x="393.50" y="383.50" width="6.00" height="62.00" fill="#f43e3e" stroke="#111" stroke-width="1.0"/>
<line x1="418.50" y1="359.79" x2="418.50" y2="351.90" stroke="#111" stroke-width="1.25"/>
<line x1="416.50" y1="352.50" x2="420.90" y2="352.50" stroke="#111" stroke-width="1.25" />
<rect x="415.50" y="360.50" width="6.00" height="85.00" fill="#f43e3e" stroke="#111" stroke-width="1.0"/>
<line x1="440.50" y1="348.86" x2="440.50" y2="335.90" stroke="#111" stroke-width="1.25"/>
<line x1="438.55" y1="336.50" x2="442.95" y2="336.50" stroke="#111" stroke-width="1.25" />
<rect x="437.50" y="349.50" width="6.00" height="96.00" fill="#f43e3e" stroke="#111" stroke-width="1.0"/>
<line x1="462.50" y1="369.12" x2="462.50" y2="355.90" stroke="#111" stroke-width="1.25"/>
<line x1="460.60" y1="356.50" x2="465.00" y2="356.50" stroke="#111" stroke-width="1.25" />
<rect x="460.50" y="369.50" width="5.00" height="76.00" fill="#f43e3e" stroke="#111" stroke-width="1.0"/>
<line x1="484.50" y1="376.92" x2="484.50" y2="369.90" stroke="#111" stroke-width="1.25"/>
<line x1="482.65" y1="370.50" x2="487.05" y2="370.50" stroke="#111" stroke-width="1.25" />
<rect x="482.50" y="377.50" width="5.00" height="68.00" fill="#f43e3e" stroke="#111" stroke-width="1.0"/>
<line x1="293.50" y1="324.40" x2="293.50" y2="446.10" stroke="#111" stroke-width="1.3" />
<line x1="292.60" y1="445.50" x2="490.00" y2="445.50" stroke="#111" stroke-width="1.3" />
<line x1="291.00" y1="445.50" x2="293.20" y2="445.50" stroke="#111" stroke-width="1.1" />
<text x="289.70" y="450.30" font-size="10" text-anchor="end" font-weight="normal" font-style="normal" fill="#2a2a2a" >0</text>
<line x1="291.00" y1="405.50" x2="293.20" y2="405.50" stroke="#111" stroke-width="1.1" />
<text x="289.70" y="410.10" font-size="10" text-anchor="end" font-weight="normal" font-style="normal" fill="#2a2a2a" >5</text>
<line x1="291.00" y1="365.50" x2="293.20" y2="365.50" stroke="#111" stroke-width="1.1" />
<text x="289.70" y="369.90" font-size="10" text-anchor="end" font-weight="normal" font-style="normal" fill="#2a2a2a" >10</text>
<line x1="291.00" y1="324.50" x2="293.20" y2="324.50" stroke="#111" stroke-width="1.1" />
<text x="289.70" y="329.70" font-size="10" text-anchor="end" font-weight="normal" font-style="normal" fill="#2a2a2a" >15</text>
<line x1="304.50" y1="445.50" x2="304.50" y2="448.30" stroke="#111" stroke-width="1" />
<line x1="326.50" y1="445.50" x2="326.50" y2="448.30" stroke="#111" stroke-width="1" />
<line x1="348.50" y1="445.50" x2="348.50" y2="448.30" stroke="#111" stroke-width="1" />
<line x1="370.50" y1="445.50" x2="370.50" y2="448.30" stroke="#111" stroke-width="1" />
<line x1="392.50" y1="445.50" x2="392.50" y2="448.30" stroke="#111" stroke-width="1" />
<line x1="414.50" y1="445.50" x2="414.50" y2="448.30" stroke="#111" stroke-width="1" />
<line x1="436.50" y1="445.50" x2="436.50" y2="448.30" stroke="#111" stroke-width="1" />
<line x1="458.50" y1="445.50" x2="458.50" y2="448.30" stroke="#111" stroke-width="1" />
<line x1="480.50" y1="445.50" x2="480.50" y2="448.30" stroke="#111" stroke-width="1" />
<text transform="translate(313.90,453.00) rotate(-45)" font-size="10.3" text-anchor="end" fill="#2a2a2a">Prom-1</text>
<text transform="translate(335.95,453.00) rotate(-45)" font-size="10.3" text-anchor="end" fill="#2a2a2a">Prom-2</text>
<text transform="translate(358.00,453.00) rotate(-45)" font-size="10.3" text-anchor="end" fill="#2a2a2a">5-UTR</text>
<text transform="translate(380.05,453.00) rotate(-45)" font-size="10.3" text-anchor="end" fill="#2a2a2a">Exon1</text>
<text transform="translate(402.10,453.00) rotate(-45)" font-size="10.3" text-anchor="end" fill="#2a2a2a">Intron1</text>
<text transform="translate(424.15,453.00) rotate(-45)" font-size="10.3" text-anchor="end" fill="#2a2a2a">Exon2</text>
<text transform="translate(446.20,453.00) rotate(-45)" font-size="10.3" text-anchor="end" fill="#2a2a2a">Exon3</text>
<text transform="translate(468.25,453.00) rotate(-45)" font-size="10.3" text-anchor="end" fill="#2a2a2a">Intron3</text>
<text transform="translate(490.30,453.00) rotate(-45)" font-size="10.3" text-anchor="end" fill="#2a2a2a">3-UTR</text>
<text x="308.40" y="346.80" font-size="11" text-anchor="middle" font-weight="normal" font-style="normal" fill="#222" >*</text>
<text x="374.00" y="398.30" font-size="11" text-anchor="middle" font-weight="normal" font-style="normal" fill="#222" >*</text>
<text x="418.90" y="351.70" font-size="11" text-anchor="middle" font-weight="normal" font-style="normal" fill="#222" >*</text>
<text x="440.90" y="335.00" font-size="11" text-anchor="middle" font-weight="normal" font-style="normal" fill="#222" >*</text>
<text transform="translate(276.21,385.00) rotate(-90)" font-size="10.3" text-anchor="middle" font-style="normal" fill="#222"><tspan font-weight="bold">I</tspan>nput (%)</text>
<text x="640.60" y="294.00" font-size="10.3" text-anchor="middle" font-weight="normal" font-style="normal" fill="#222" >Ch<tspan font-weight="bold">I</tspan>P: anti<tspan font-weight="bold" stroke="#222" stroke-width="0.5">-</tspan>EZH2</text>
<text x="641.00" y="305.00" font-size="10.4" text-anchor="middle" font-weight="normal" font-style="normal" fill="#222" >(Post<tspan font-weight="bold" stroke="#222" stroke-width="0.5">-</tspan>training 12h)</text>
<line x1="559.50" y1="431.37" x2="559.50" y2="426.90" stroke="#111" stroke-width="1.25"/>
<line x1="557.60" y1="427.50" x2="562.00" y2="427.50" stroke="#111" stroke-width="1.25" />
<rect x="556.50" y="431.50" width="7.00" height="11.00" fill="#858585" stroke="#111" stroke-width="1.0"/>
<line x1="585.50" y1="397.23" x2="585.50" y2="380.90" stroke="#111" stroke-width="1.25"/>
<line x1="583.43" y1="381.50" x2="587.83" y2="381.50" stroke="#111" stroke-width="1.25" />
<rect x="582.50" y="397.50" width="7.00" height="45.00" fill="#858585" stroke="#111" stroke-width="1.0"/>
<line x1="611.50" y1="428.22" x2="611.50" y2="422.90" stroke="#111" stroke-width="1.25"/>
<line x1="609.26" y1="423.50" x2="613.66" y2="423.50" stroke="#111" stroke-width="1.25" />
<rect x="607.50" y="428.50" width="8.00" height="14.00" fill="#858585" stroke="#111" stroke-width="1.0"/>
<line x1="637.50" y1="408.46" x2="637.50" y2="380.90" stroke="#111" stroke-width="1.25"/>
<line x1="635.09" y1="381.50" x2="639.49" y2="381.50" stroke="#111" stroke-width="1.25" />
<rect x="633.50" y="408.50" width="7.00" height="34.00" fill="#858585" stroke="#111" stroke-width="1.0"/>
<line x1="663.50" y1="418.34" x2="663.50" y2="406.90" stroke="#111" stroke-width="1.25"/>
<line x1="660.92" y1="407.50" x2="665.32" y2="407.50" stroke="#111" stroke-width="1.25" />
<rect x="659.50" y="418.50" width="7.00" height="24.00" fill="#858585" stroke="#111" stroke-width="1.0"/>
<line x1="688.50" y1="407.26" x2="688.50" y2="392.90" stroke="#111" stroke-width="1.25"/>
<line x1="686.75" y1="393.50" x2="691.15" y2="393.50" stroke="#111" stroke-width="1.25" />
<rect x="685.50" y="407.50" width="7.00" height="35.00" fill="#858585" stroke="#111" stroke-width="1.0"/>
<line x1="714.50" y1="393.33" x2="714.50" y2="373.90" stroke="#111" stroke-width="1.25"/>
<line x1="712.58" y1="374.50" x2="716.98" y2="374.50" stroke="#111" stroke-width="1.25" />
<rect x="711.50" y="393.50" width="7.00" height="49.00" fill="#858585" stroke="#111" stroke-width="1.0"/>
<line x1="569.50" y1="421.49" x2="569.50" y2="420.90" stroke="#111" stroke-width="1.25"/>
<line x1="566.80" y1="421.50" x2="571.20" y2="421.50" stroke="#111" stroke-width="1.25" />
<rect x="565.50" y="421.50" width="7.00" height="21.00" fill="#f43e3e" stroke="#111" stroke-width="1.0"/>
<line x1="594.50" y1="370.27" x2="594.50" y2="357.90" stroke="#111" stroke-width="1.25"/>
<line x1="592.63" y1="358.50" x2="597.03" y2="358.50" stroke="#111" stroke-width="1.25" />
<rect x="591.50" y="370.50" width="7.00" height="72.00" fill="#f43e3e" stroke="#111" stroke-width="1.0"/>
<line x1="620.50" y1="404.41" x2="620.50" y2="386.90" stroke="#111" stroke-width="1.25"/>
<line x1="618.46" y1="387.50" x2="622.86" y2="387.50" stroke="#111" stroke-width="1.25" />
<rect x="617.50" y="404.50" width="7.00" height="38.00" fill="#f43e3e" stroke="#111" stroke-width="1.0"/>
<line x1="646.50" y1="415.20" x2="646.50" y2="409.90" stroke="#111" stroke-width="1.25"/>
<line x1="644.29" y1="410.50" x2="648.69" y2="410.50" stroke="#111" stroke-width="1.25" />
<rect x="642.50" y="415.50" width="8.00" height="27.00" fill="#f43e3e" stroke="#111" stroke-width="1.0"/>
<line x1="672.50" y1="411.30" x2="672.50" y2="406.90" stroke="#111" stroke-width="1.25"/>
<line x1="670.12" y1="407.50" x2="674.52" y2="407.50" stroke="#111" stroke-width="1.25" />
<rect x="668.50" y="411.50" width="7.00" height="31.00" fill="#f43e3e" stroke="#111" stroke-width="1.0"/>
<line x1="698.50" y1="382.40" x2="698.50" y2="353.90" stroke="#111" stroke-width="1.25"/>
<line x1="695.95" y1="354.50" x2="700.35" y2="354.50" stroke="#111" stroke-width="1.25" />
<rect x="694.50" y="382.50" width="7.00" height="60.00" fill="#f43e3e" stroke="#111" stroke-width="1.0"/>
<line x1="723.50" y1="377.31" x2="723.50" y2="360.90" stroke="#111" stroke-width="1.25"/>
<line x1="721.78" y1="361.50" x2="726.18" y2="361.50" stroke="#111" stroke-width="1.25" />
<rect x="720.50" y="377.50" width="7.00" height="65.00" fill="#f43e3e" stroke="#111" stroke-width="1.0"/>
<line x1="552.50" y1="322.90" x2="552.50" y2="443.80" stroke="#111" stroke-width="1.3" />
<line x1="551.90" y1="443.50" x2="732.80" y2="443.50" stroke="#111" stroke-width="1.3" />
<line x1="550.30" y1="443.50" x2="552.50" y2="443.50" stroke="#111" stroke-width="1.1" />
<text x="549.00" y="448.00" font-size="10" text-anchor="end" font-weight="normal" font-style="normal" fill="#2a2a2a" >0<tspan font-weight="bold">.</tspan>0</text>
<line x1="550.30" y1="413.50" x2="552.50" y2="413.50" stroke="#111" stroke-width="1.1" />
<text x="549.00" y="418.05" font-size="10" text-anchor="end" font-weight="normal" font-style="normal" fill="#2a2a2a" >0<tspan font-weight="bold">.</tspan>2</text>
<line x1="550.30" y1="383.50" x2="552.50" y2="383.50" stroke="#111" stroke-width="1.1" />
<text x="549.00" y="388.10" font-size="10" text-anchor="end" font-weight="normal" font-style="normal" fill="#2a2a2a" >0<tspan font-weight="bold">.</tspan>4</text>
<line x1="550.30" y1="353.50" x2="552.50" y2="353.50" stroke="#111" stroke-width="1.1" />
<text x="549.00" y="358.15" font-size="10" text-anchor="end" font-weight="normal" font-style="normal" fill="#2a2a2a" >0<tspan font-weight="bold">.</tspan>6</text>
<line x1="550.30" y1="323.50" x2="552.50" y2="323.50" stroke="#111" stroke-width="1.1" />
<text x="549.00" y="328.20" font-size="10" text-anchor="end" font-weight="normal" font-style="normal" fill="#2a2a2a" >0<tspan font-weight="bold">.</tspan>8</text>
<line x1="564.50" y1="443.20" x2="564.50" y2="446.00" stroke="#111" stroke-width="1" />
<line x1="590.50" y1="443.20" x2="590.50" y2="446.00" stroke="#111" stroke-width="1" />
<line x1="616.50" y1="443.20" x2="616.50" y2="446.00" stroke="#111" stroke-width="1" />
<line x1="641.50" y1="443.20" x2="641.50" y2="446.00" stroke="#111" stroke-width="1" />
<line x1="667.50" y1="443.20" x2="667.50" y2="446.00" stroke="#111" stroke-width="1" />
<line x1="693.50" y1="443.20" x2="693.50" y2="446.00" stroke="#111" stroke-width="1" />
<line x1="719.50" y1="443.20" x2="719.50" y2="446.00" stroke="#111" stroke-width="1" />
<text transform="translate(573.80,450.70) rotate(-45)" font-size="10.3" text-anchor="end" fill="#2a2a2a">Prom-1</text>
<text transform="translate(599.63,450.70) rotate(-45)" font-size="10.3" text-anchor="end" fill="#2a2a2a">Prom-2</text>
<text transform="translate(625.46,450.70) rotate(-45)" font-size="10.3" text-anchor="end" fill="#2a2a2a">5-UTR</text>
<text transform="translate(651.29,450.70) rotate(-45)" font-size="10.3" text-anchor="end" fill="#2a2a2a">Exon1</text>
<text transform="translate(677.12,450.70) rotate(-45)" font-size="10.3" text-anchor="end" fill="#2a2a2a">Intron1</text>
<text transform="translate(702.95,450.70) rotate(-45)" font-size="10.3" text-anchor="end" fill="#2a2a2a">Exon2</text>
<text transform="translate(728.78,450.70) rotate(-45)" font-size="10.3" text-anchor="end" fill="#2a2a2a">Exon3</text>
<text x="568.55" y="419.30" font-size="11" text-anchor="middle" font-weight="normal" font-style="normal" fill="#222" >*</text>
<text transform="translate(531.21,383.50) rotate(-90)" font-size="10.3" text-anchor="middle" font-style="normal" fill="#222"><tspan font-weight="bold">I</tspan>nput (%)</text>
<text x="138.80" y="535.60" font-size="10.3" text-anchor="middle" font-weight="normal" font-style="normal" fill="#222" >Ch<tspan font-weight="bold">I</tspan>P: anti<tspan font-weight="bold" stroke="#222" stroke-width="0.5">-</tspan>H3K27me3</text>
<text x="140.00" y="549.30" font-size="10.3" text-anchor="middle" font-weight="normal" font-style="normal" fill="#222" >(Home vs<tspan font-weight="bold">.</tspan> Post<tspan font-weight="bold" stroke="#222" stroke-width="0.5">-</tspan>training 12h)</text>
<circle cx="62.2" cy="568.1" r="1.8" fill="#fff" stroke="#e89aa0" stroke-width="1"/>
<circle cx="62.2" cy="578.6" r="1.9" fill="#f28a8a" stroke="#c42a2a" stroke-width="0.9"/>
<text x="69.60" y="570.60" font-size="10.2" text-anchor="start" font-weight="normal" font-style="normal" fill="#222" ><tspan font-style="italic">Ash1l</tspan><tspan font-size="6" dy="-4">+/-</tspan><tspan dy="4"> <tspan font-weight="bold" stroke="#222" stroke-width="0.5">-</tspan> Homecage</tspan></text>
<text x="69.60" y="582.00" font-size="10.2" text-anchor="start" font-weight="normal" font-style="normal" fill="#222" ><tspan font-style="italic">Ash1l</tspan><tspan font-size="6" dy="-4">+/-</tspan><tspan dy="4"> <tspan font-weight="bold" stroke="#222" stroke-width="0.5">-</tspan> Post<tspan font-weight="bold" stroke="#222" stroke-width="0.5">-</tspan>training 12h</tspan></text>
<line x1="59.50" y1="672.93" x2="59.50" y2="665.90" stroke="#eb9ea4" stroke-width="1.25"/>
<line x1="57.25" y1="666.50" x2="61.65" y2="666.50" stroke="#eb9ea4" stroke-width="1.25" />
<rect x="56.50" y="673.50" width="6.00" height="17.00" fill="#fff" stroke="#eb9ea4" stroke-width="1.0"/>
<line x1="80.50" y1="684.12" x2="80.50" y2="679.90" stroke="#eb9ea4" stroke-width="1.25"/>
<line x1="78.20" y1="680.50" x2="82.60" y2="680.50" stroke="#eb9ea4" stroke-width="1.25" />
<rect x="77.50" y="684.50" width="6.00" height="6.00" fill="#fff" stroke="#eb9ea4" stroke-width="1.0"/>
<line x1="101.50" y1="681.56" x2="101.50" y2="678.90" stroke="#eb9ea4" stroke-width="1.25"/>
<line x1="99.15" y1="679.50" x2="103.55" y2="679.50" stroke="#eb9ea4" stroke-width="1.25" />
<rect x="98.50" y="682.50" width="6.00" height="8.00" fill="#fff" stroke="#eb9ea4" stroke-width="1.0"/>
<line x1="122.50" y1="684.12" x2="122.50" y2="681.90" stroke="#eb9ea4" stroke-width="1.25"/>
<line x1="120.10" y1="682.50" x2="124.50" y2="682.50" stroke="#eb9ea4" stroke-width="1.25" />
<rect x="119.50" y="684.50" width="6.00" height="6.00" fill="#fff" stroke="#eb9ea4" stroke-width="1.0"/>
<line x1="143.50" y1="679.31" x2="143.50" y2="676.90" stroke="#eb9ea4" stroke-width="1.25"/>
<line x1="141.05" y1="677.50" x2="145.45" y2="677.50" stroke="#eb9ea4" stroke-width="1.25" />
<rect x="140.50" y="679.50" width="6.00" height="11.00" fill="#fff" stroke="#eb9ea4" stroke-width="1.0"/>
<line x1="164.50" y1="676.21" x2="164.50" y2="670.90" stroke="#eb9ea4" stroke-width="1.25"/>
<line x1="162.00" y1="671.50" x2="166.40" y2="671.50" stroke="#eb9ea4" stroke-width="1.25" />
<rect x="161.50" y="676.50" width="6.00" height="14.00" fill="#fff" stroke="#eb9ea4" stroke-width="1.0"/>
<line x1="185.50" y1="674.87" x2="185.50" y2="667.90" stroke="#eb9ea4" stroke-width="1.25"/>
<line x1="182.95" y1="668.50" x2="187.35" y2="668.50" stroke="#eb9ea4" stroke-width="1.25" />
<rect x="182.50" y="675.50" width="5.00" height="15.00" fill="#fff" stroke="#eb9ea4" stroke-width="1.0"/>
<line x1="206.50" y1="679.01" x2="206.50" y2="668.90" stroke="#eb9ea4" stroke-width="1.25"/>
<line x1="203.90" y1="669.50" x2="208.30" y2="669.50" stroke="#eb9ea4" stroke-width="1.25" />
<rect x="203.50" y="679.50" width="5.00" height="11.00" fill="#fff" stroke="#eb9ea4" stroke-width="1.0"/>
<line x1="227.50" y1="678.22" x2="227.50" y2="667.90" stroke="#eb9ea4" stroke-width="1.25"/>
<line x1="224.85" y1="668.50" x2="229.25" y2="668.50" stroke="#eb9ea4" stroke-width="1.25" />
<rect x="224.50" y="678.50" width="5.00" height="12.00" fill="#fff" stroke="#eb9ea4" stroke-width="1.0"/>
<line x1="66.50" y1="623.01" x2="66.50" y2="608.90" stroke="#c42a2a" stroke-width="1.25"/>
<line x1="64.45" y1="609.50" x2="68.85" y2="609.50" stroke="#c42a2a" stroke-width="1.25" />
<rect x="63.50" y="623.50" width="6.00" height="67.00" fill="#f7a3a3" stroke="#c42a2a" stroke-width="1.0"/>
<line x1="87.50" y1="670.68" x2="87.50" y2="659.90" stroke="#c42a2a" stroke-width="1.25"/>
<line x1="85.40" y1="660.50" x2="89.80" y2="660.50" stroke="#c42a2a" stroke-width="1.25" />
<rect x="84.50" y="671.50" width="6.00" height="19.00" fill="#f7a3a3" stroke="#c42a2a" stroke-width="1.0"/>
<line x1="108.50" y1="656.88" x2="108.50" y2="635.90" stroke="#c42a2a" stroke-width="1.25"/>
<line x1="106.35" y1="636.50" x2="110.75" y2="636.50" stroke="#c42a2a" stroke-width="1.25" />
<rect x="105.50" y="657.50" width="6.00" height="33.00" fill="#f7a3a3" stroke="#c42a2a" stroke-width="1.0"/>
<line x1="129.50" y1="660.10" x2="129.50" y2="650.90" stroke="#c42a2a" stroke-width="1.25"/>
<line x1="127.30" y1="651.50" x2="131.70" y2="651.50" stroke="#c42a2a" stroke-width="1.25" />
<rect x="126.50" y="660.50" width="6.00" height="30.00" fill="#f7a3a3" stroke="#c42a2a" stroke-width="1.0"/>
<line x1="150.50" y1="644.11" x2="150.50" y2="624.90" stroke="#c42a2a" stroke-width="1.25"/>
<line x1="148.25" y1="625.50" x2="152.65" y2="625.50" stroke="#c42a2a" stroke-width="1.25" />
<rect x="147.50" y="644.50" width="6.00" height="46.00" fill="#f7a3a3" stroke="#c42a2a" stroke-width="1.0"/>
<line x1="171.50" y1="626.30" x2="171.50" y2="612.90" stroke="#c42a2a" stroke-width="1.25"/>
<line x1="169.20" y1="613.50" x2="173.60" y2="613.50" stroke="#c42a2a" stroke-width="1.25" />
<rect x="168.50" y="626.50" width="6.00" height="64.00" fill="#f7a3a3" stroke="#c42a2a" stroke-width="1.0"/>
<line x1="192.50" y1="618.15" x2="192.50" y2="596.90" stroke="#c42a2a" stroke-width="1.25"/>
<line x1="190.15" y1="597.50" x2="194.55" y2="597.50" stroke="#c42a2a" stroke-width="1.25" />
<rect x="189.50" y="618.50" width="6.00" height="72.00" fill="#f7a3a3" stroke="#c42a2a" stroke-width="1.0"/>
<line x1="213.50" y1="633.23" x2="213.50" y2="611.90" stroke="#c42a2a" stroke-width="1.25"/>
<line x1="211.10" y1="612.50" x2="215.50" y2="612.50" stroke="#c42a2a" stroke-width="1.25" />
<rect x="210.50" y="633.50" width="6.00" height="57.00" fill="#f7a3a3" stroke="#c42a2a" stroke-width="1.0"/>
<line x1="234.50" y1="639.18" x2="234.50" y2="627.90" stroke="#c42a2a" stroke-width="1.25"/>
<line x1="232.05" y1="628.50" x2="236.45" y2="628.50" stroke="#c42a2a" stroke-width="1.25" />
<rect x="231.50" y="639.50" width="6.00" height="51.00" fill="#f7a3a3" stroke="#c42a2a" stroke-width="1.0"/>
<line x1="53.50" y1="568.40" x2="53.50" y2="691.10" stroke="#111" stroke-width="1.3" />
<line x1="52.70" y1="690.50" x2="241.00" y2="690.50" stroke="#111" stroke-width="1.3" />
<line x1="51.10" y1="690.50" x2="53.30" y2="690.50" stroke="#111" stroke-width="1.1" />
<text x="49.80" y="695.30" font-size="10" text-anchor="end" font-weight="normal" font-style="normal" fill="#2a2a2a" >0</text>
<line x1="51.10" y1="660.50" x2="53.30" y2="660.50" stroke="#111" stroke-width="1.1" />
<text x="49.80" y="664.90" font-size="10" text-anchor="end" font-weight="normal" font-style="normal" fill="#2a2a2a" >5</text>
<line x1="51.10" y1="629.50" x2="53.30" y2="629.50" stroke="#111" stroke-width="1.1" />
<text x="49.80" y="634.50" font-size="10" text-anchor="end" font-weight="normal" font-style="normal" fill="#2a2a2a" >10</text>
<line x1="51.10" y1="599.50" x2="53.30" y2="599.50" stroke="#111" stroke-width="1.1" />
<text x="49.80" y="604.10" font-size="10" text-anchor="end" font-weight="normal" font-style="normal" fill="#2a2a2a" >15</text>
<line x1="51.10" y1="568.50" x2="53.30" y2="568.50" stroke="#111" stroke-width="1.1" />
<text x="49.80" y="573.70" font-size="10" text-anchor="end" font-weight="normal" font-style="normal" fill="#2a2a2a" >20</text>
<line x1="63.50" y1="690.50" x2="63.50" y2="693.30" stroke="#111" stroke-width="1" />
<line x1="84.50" y1="690.50" x2="84.50" y2="693.30" stroke="#111" stroke-width="1" />
<line x1="104.50" y1="690.50" x2="104.50" y2="693.30" stroke="#111" stroke-width="1" />
<line x1="125.50" y1="690.50" x2="125.50" y2="693.30" stroke="#111" stroke-width="1" />
<line x1="146.50" y1="690.50" x2="146.50" y2="693.30" stroke="#111" stroke-width="1" />
<line x1="167.50" y1="690.50" x2="167.50" y2="693.30" stroke="#111" stroke-width="1" />
<line x1="188.50" y1="690.50" x2="188.50" y2="693.30" stroke="#111" stroke-width="1" />
<line x1="209.50" y1="690.50" x2="209.50" y2="693.30" stroke="#111" stroke-width="1" />
<line x1="230.50" y1="690.50" x2="230.50" y2="693.30" stroke="#111" stroke-width="1" />
<text transform="translate(72.45,698.00) rotate(-45)" font-size="10.3" text-anchor="end" fill="#2a2a2a">Prom-1</text>
<text transform="translate(93.40,698.00) rotate(-45)" font-size="10.3" text-anchor="end" fill="#2a2a2a">Prom-2</text>
<text transform="translate(114.35,698.00) rotate(-45)" font-size="10.3" text-anchor="end" fill="#2a2a2a">5-UTR</text>
<text transform="translate(135.30,698.00) rotate(-45)" font-size="10.3" text-anchor="end" fill="#2a2a2a">Exon1</text>
<text transform="translate(156.25,698.00) rotate(-45)" font-size="10.3" text-anchor="end" fill="#2a2a2a">Intron1</text>
<text transform="translate(177.20,698.00) rotate(-45)" font-size="10.3" text-anchor="end" fill="#2a2a2a">Exon2</text>
<text transform="translate(198.15,698.00) rotate(-45)" font-size="10.3" text-anchor="end" fill="#2a2a2a">Exon3</text>
<text transform="translate(219.10,698.00) rotate(-45)" font-size="10.3" text-anchor="end" fill="#2a2a2a">Intron3</text>
<text transform="translate(240.05,698.00) rotate(-45)" font-size="10.3" text-anchor="end" fill="#2a2a2a">3-UTR</text>
<text x="66.50" y="608.80" font-size="11" text-anchor="middle" font-weight="normal" font-style="normal" fill="#222" >**</text>
<text x="130.00" y="650.20" font-size="11" text-anchor="middle" font-weight="normal" font-style="normal" fill="#222" >**</text>
<text x="150.20" y="624.70" font-size="11" text-anchor="middle" font-weight="normal" font-style="normal" fill="#222" >*</text>
<text x="171.30" y="611.30" font-size="11" text-anchor="middle" font-weight="normal" font-style="normal" fill="#222" >**</text>
<text x="192.60" y="595.40" font-size="11" text-anchor="middle" font-weight="normal" font-style="normal" fill="#222" >**</text>
<text x="213.20" y="611.00" font-size="11" text-anchor="middle" font-weight="normal" font-style="normal" fill="#222" >*</text>
<text x="234.50" y="626.30" font-size="11" text-anchor="middle" font-weight="normal" font-style="normal" fill="#222" >**</text>
<text transform="translate(36.11,629.70) rotate(-90)" font-size="10.3" text-anchor="middle" font-style="normal" fill="#222"><tspan font-weight="bold">I</tspan>nput (%)</text>
<path d="M325.50,525.50 L325.50,536.20 A21.90,3.00 0 0 0 369.30,536.20 L369.30,525.50" fill="#fff" stroke="#222" stroke-width="0.9"/>
<ellipse cx="347.40" cy="536.20" rx="19.90" ry="2.20" fill="#e6f2e6" stroke="#333" stroke-width="0.6"/>
<circle cx="342.64" cy="536.13" r="0.8" fill="#2e7d4e"/>
<circle cx="359.76" cy="536.19" r="0.8" fill="#2e7d4e"/>
<circle cx="354.95" cy="537.01" r="0.8" fill="#2e7d4e"/>
<circle cx="339.85" cy="536.05" r="0.8" fill="#2e7d4e"/>
<circle cx="332.91" cy="535.13" r="0.8" fill="#2e7d4e"/>
<circle cx="356.90" cy="536.91" r="0.8" fill="#2e7d4e"/>
<circle cx="342.12" cy="535.59" r="0.8" fill="#2e7d4e"/>
<circle cx="335.78" cy="536.24" r="0.8" fill="#2e7d4e"/>
<circle cx="352.61" cy="536.54" r="0.8" fill="#2e7d4e"/>
<circle cx="352.40" cy="536.05" r="0.8" fill="#2e7d4e"/>
<circle cx="348.72" cy="535.99" r="0.8" fill="#2e7d4e"/>
<circle cx="354.98" cy="536.42" r="0.8" fill="#2e7d4e"/>
<circle cx="343.15" cy="536.15" r="0.8" fill="#2e7d4e"/>
<circle cx="361.72" cy="536.35" r="0.8" fill="#2e7d4e"/>
<circle cx="337.98" cy="535.63" r="0.8" fill="#2e7d4e"/>
<circle cx="334.08" cy="536.57" r="0.8" fill="#2e7d4e"/>
<circle cx="359.39" cy="535.22" r="0.8" fill="#2e7d4e"/>
<circle cx="362.44" cy="536.72" r="0.8" fill="#2e7d4e"/>
<circle cx="337.68" cy="536.34" r="0.8" fill="#2e7d4e"/>
<circle cx="332.74" cy="535.49" r="0.8" fill="#2e7d4e"/>
<circle cx="356.02" cy="536.03" r="0.8" fill="#2e7d4e"/>
<circle cx="348.00" cy="536.50" r="0.8" fill="#2e7d4e"/>
<circle cx="356.96" cy="535.17" r="0.8" fill="#2e7d4e"/>
<circle cx="355.19" cy="535.76" r="0.8" fill="#2e7d4e"/>
<ellipse cx="347.40" cy="525.50" rx="21.90" ry="3.00" fill="none" stroke="#222" stroke-width="0.9"/>
<line x1="346.80" y1="525.00" x2="350.90" y2="520.70" stroke="#6a8ac0" stroke-width="0.8"/>
<path d="M350.00,521.90 L352.00,518.30 L353.60,519.90 Z" fill="#3f5f9f"/>
<path d="M418.78,519.00 L418.78,526.00 L450.82,526.00 L450.82,519.00 Z" fill="#b9c6e6"/>
<ellipse cx="434.80" cy="519.00" rx="16.02" ry="1.8" fill="#c9d3ec"/>
<path d="M418.78,524.50 L415.04,530.50 L454.56,530.50 L450.82,524.50 Z" fill="#9fb3da"/>
<rect x="414.00" y="530.50" width="41.60" height="10.50" fill="#a9bbdf" stroke="#1d2540" stroke-width="0.9"/>
<line x1="414.50" y1="534.00" x2="455.10" y2="534.00" stroke="#6f84b8" stroke-width="0.7"/>
<ellipse cx="434.80" cy="539.30" rx="16.80" ry="1.6" fill="#d6ebdd"/>
<circle cx="425.26" cy="539.66" r="0.8" fill="#2e7d5e"/>
<circle cx="440.54" cy="539.44" r="0.8" fill="#2e7d5e"/>
<circle cx="433.93" cy="539.70" r="0.8" fill="#2e7d5e"/>
<circle cx="433.35" cy="539.79" r="0.8" fill="#2e7d5e"/>
<circle cx="428.81" cy="539.67" r="0.8" fill="#2e7d5e"/>
<circle cx="432.07" cy="538.82" r="0.8" fill="#2e7d5e"/>
<circle cx="430.88" cy="539.57" r="0.8" fill="#2e7d5e"/>
<circle cx="424.10" cy="539.07" r="0.8" fill="#2e7d5e"/>
<circle cx="424.19" cy="539.13" r="0.8" fill="#2e7d5e"/>
<circle cx="435.39" cy="538.72" r="0.8" fill="#2e7d5e"/>
<circle cx="424.44" cy="539.75" r="0.8" fill="#2e7d5e"/>
<circle cx="442.19" cy="538.75" r="0.8" fill="#2e7d5e"/>
<circle cx="432.92" cy="539.62" r="0.8" fill="#2e7d5e"/>
<circle cx="447.73" cy="539.56" r="0.8" fill="#2e7d5e"/>
<circle cx="421.07" cy="538.84" r="0.8" fill="#2e7d5e"/>
<circle cx="448.84" cy="539.72" r="0.8" fill="#2e7d5e"/>
<circle cx="436.05" cy="539.58" r="0.8" fill="#2e7d5e"/>
<circle cx="446.73" cy="539.10" r="0.8" fill="#2e7d5e"/>
<circle cx="427.81" cy="539.27" r="0.8" fill="#2e7d5e"/>
<circle cx="421.31" cy="539.88" r="0.8" fill="#2e7d5e"/>
<line x1="273.20" y1="560.50" x2="277.80" y2="560.50" stroke="#111" stroke-width="1.1" />
<line x1="279.30" y1="560.50" x2="283.70" y2="560.50" stroke="#111" stroke-width="1.1" />
<line x1="285.00" y1="560.50" x2="567.00" y2="560.50" stroke="#111" stroke-width="1.1" />
<path d="M563,558 L568.5,560.5 L563,563" fill="none" stroke="#111" stroke-width="1"/>
<line x1="276.50" y1="560.50" x2="276.50" y2="557.40" stroke="#111" stroke-width="1" />
<line x1="348.50" y1="560.50" x2="348.50" y2="557.40" stroke="#111" stroke-width="1" />
<line x1="436.50" y1="560.50" x2="436.50" y2="557.40" stroke="#111" stroke-width="1" />
<line x1="516.50" y1="560.50" x2="516.50" y2="557.40" stroke="#111" stroke-width="1" />
<text x="274.80" y="569.30" font-size="9" text-anchor="middle" font-weight="normal" font-style="normal" fill="#222" >D<tspan font-weight="bold">I</tspan>V 1</text>
<text x="347.50" y="569.10" font-size="9" text-anchor="middle" font-weight="normal" font-style="normal" fill="#222" >D<tspan font-weight="bold">I</tspan>V 9</text>
<text x="436.50" y="569.10" font-size="9" text-anchor="middle" font-weight="normal" font-style="normal" fill="#222" >D<tspan font-weight="bold">I</tspan>V 10</text>
<text x="515.00" y="569.10" font-size="9" text-anchor="middle" font-weight="normal" font-style="normal" fill="#222" >D<tspan font-weight="bold">I</tspan>V 11</text>
<text x="277.00" y="556.70" font-size="8.8" text-anchor="middle" font-weight="normal" font-style="normal" fill="#6cb04c" >Lv:ChR2</text>
<text x="347.00" y="548.60" font-size="8.95" text-anchor="middle" font-weight="normal" font-style="normal" fill="#ec9a40" >EZH1/2 inhibitor</text>
<text x="347.80" y="556.00" font-size="8.95" text-anchor="middle" font-weight="normal" font-style="normal" fill="#ec9a40" >treatment</text>
<text x="439.40" y="554.90" font-size="8.95" text-anchor="middle" font-weight="normal" font-style="normal" fill="#3d8fd0" >LED(30 Hz, 10 min)</text>
<text x="515.00" y="547.40" font-size="8.7" text-anchor="middle" font-weight="normal" font-style="normal" fill="#222" >RNA</text>
<text x="516.70" y="554.90" font-size="8.8" text-anchor="middle" font-weight="normal" font-style="normal" fill="#222" >extraction</text>
<text x="363.50" y="588.90" font-size="10.3" text-anchor="middle" font-weight="normal" font-style="normal" fill="#222" >DMSO</text>
<rect x="322.50" y="640.50" width="16.00" height="49.00" fill="#7f7f7f" stroke="#111" stroke-width="1.0"/>
<line x1="330.50" y1="639.67" x2="330.50" y2="635.00" stroke="#111" stroke-width="1.1"/>
<line x1="326.65" y1="635.50" x2="333.85" y2="635.50" stroke="#111" stroke-width="1.1" />
<circle cx="330.60" cy="629.00" r="2.0" fill="#5f5f5f"/>
<circle cx="326.80" cy="640.80" r="2.0" fill="#5f5f5f"/>
<circle cx="334.40" cy="640.80" r="2.0" fill="#5f5f5f"/>
<circle cx="328.00" cy="645.20" r="2.0" fill="#5f5f5f"/>
<circle cx="333.30" cy="642.00" r="2.0" fill="#5f5f5f"/>
<rect x="341.50" y="644.50" width="16.00" height="45.00" fill="#fff" stroke="#111" stroke-width="1.0"/>
<line x1="349.50" y1="644.09" x2="349.50" y2="636.00" stroke="#111" stroke-width="1.1"/>
<line x1="346.00" y1="636.50" x2="353.20" y2="636.50" stroke="#111" stroke-width="1.1" />
<circle cx="349.50" cy="625.60" r="2.0" fill="#111"/>
<circle cx="349.50" cy="641.20" r="2.0" fill="#111"/>
<circle cx="343.50" cy="647.00" r="2.0" fill="#111"/>
<circle cx="349.50" cy="660.80" r="2.0" fill="#111"/>
<rect x="367.50" y="639.50" width="16.00" height="50.00" fill="#fcd6d6" stroke="#d94545" stroke-width="1.0"/>
<line x1="375.50" y1="639.21" x2="375.50" y2="634.00" stroke="#d94545" stroke-width="1.1"/>
<line x1="371.55" y1="634.50" x2="378.75" y2="634.50" stroke="#d94545" stroke-width="1.1" />
<circle cx="371.90" cy="626.70" r="2.0" fill="#f08a8a"/>
<circle cx="377.30" cy="625.20" r="2.0" fill="#f08a8a"/>
<circle cx="371.90" cy="640.80" r="2.0" fill="#f08a8a"/>
<circle cx="380.20" cy="645.70" r="2.0" fill="#f08a8a"/>
<circle cx="375.70" cy="656.10" r="2.0" fill="#f08a8a"/>
<rect x="386.50" y="652.50" width="16.00" height="37.00" fill="#fff" stroke="#d94545" stroke-width="1.0"/>
<line x1="394.50" y1="652.34" x2="394.50" y2="649.00" stroke="#d94545" stroke-width="1.1"/>
<line x1="390.95" y1="649.50" x2="398.15" y2="649.50" stroke="#d94545" stroke-width="1.1" />
<circle cx="394.20" cy="639.60" r="2.0" fill="#e0505e"/>
<circle cx="390.60" cy="653.00" r="2.0" fill="#e0505e"/>
<circle cx="401.80" cy="653.00" r="2.0" fill="#e0505e"/>
<circle cx="394.20" cy="660.10" r="2.0" fill="#e0505e"/>
<circle cx="397.00" cy="650.00" r="2.0" fill="#e0505e"/>
<line x1="313.50" y1="590.00" x2="313.50" y2="690.00" stroke="#111" stroke-width="1.1" />
<line x1="312.50" y1="689.50" x2="412.40" y2="689.50" stroke="#111" stroke-width="1.1" />
<line x1="310.20" y1="689.50" x2="313.00" y2="689.50" stroke="#111" stroke-width="1" />
<text x="309.50" y="693.60" font-size="10" text-anchor="end" font-weight="normal" font-style="normal" fill="#2a2a2a" >0<tspan font-weight="bold">.</tspan>000</text>
<line x1="310.20" y1="656.50" x2="313.00" y2="656.50" stroke="#111" stroke-width="1" />
<text x="309.50" y="660.60" font-size="10" text-anchor="end" font-weight="normal" font-style="normal" fill="#2a2a2a" >0<tspan font-weight="bold">.</tspan>005</text>
<line x1="310.20" y1="623.50" x2="313.00" y2="623.50" stroke="#111" stroke-width="1" />
<text x="309.50" y="627.60" font-size="10" text-anchor="end" font-weight="normal" font-style="normal" fill="#2a2a2a" >0<tspan font-weight="bold">.</tspan>010</text>
<line x1="310.20" y1="590.50" x2="313.00" y2="590.50" stroke="#111" stroke-width="1" />
<text x="309.50" y="594.60" font-size="10" text-anchor="end" font-weight="normal" font-style="normal" fill="#2a2a2a" >0<tspan font-weight="bold">.</tspan>015</text>
<line x1="372.40" y1="615.50" x2="397.30" y2="615.50" stroke="#111" stroke-width="1.1" />
<text x="385.00" y="617.50" font-size="10.5" text-anchor="middle" font-weight="normal" font-style="normal" fill="#222" >*</text>
<text transform="translate(267.80,641.00) rotate(-90)" font-size="11.1" text-anchor="middle" font-style="normal" fill="#222">Re<tspan font-weight="bold">l</tspan>ative Expression</text>
<text transform="translate(280.44,641.80) rotate(-90)" font-size="11.5" text-anchor="middle" font-style="italic" fill="#222">(EphA7 / Gapdh)</text>
<text x="521.30" y="587.80" font-size="10.3" text-anchor="middle" font-weight="normal" font-style="normal" fill="#222" >UNC1999</text>
<rect x="482.50" y="640.50" width="16.00" height="47.00" fill="#7f7f7f" stroke="#111" stroke-width="1.0"/>
<line x1="490.50" y1="639.64" x2="490.50" y2="636.00" stroke="#111" stroke-width="1.1"/>
<line x1="486.65" y1="636.50" x2="493.85" y2="636.50" stroke="#111" stroke-width="1.1" />
<circle cx="486.80" cy="633.40" r="2.0" fill="#5f5f5f"/>
<circle cx="492.80" cy="631.90" r="2.0" fill="#5f5f5f"/>
<circle cx="490.10" cy="640.80" r="2.0" fill="#5f5f5f"/>
<circle cx="490.10" cy="647.90" r="2.0" fill="#5f5f5f"/>
<rect x="501.50" y="644.50" width="16.00" height="43.00" fill="#fff" stroke="#111" stroke-width="1.0"/>
<line x1="509.50" y1="644.09" x2="509.50" y2="634.00" stroke="#111" stroke-width="1.1"/>
<line x1="505.95" y1="634.50" x2="513.15" y2="634.50" stroke="#111" stroke-width="1.1" />
<circle cx="509.50" cy="619.40" r="2.0" fill="#111"/>
<circle cx="509.50" cy="643.40" r="2.0" fill="#111"/>
<circle cx="503.50" cy="649.00" r="2.0" fill="#111"/>
<circle cx="509.50" cy="661.20" r="2.0" fill="#111"/>
<rect x="527.50" y="640.50" width="16.00" height="47.00" fill="#fcd6d6" stroke="#d94545" stroke-width="1.0"/>
<line x1="535.50" y1="640.31" x2="535.50" y2="632.00" stroke="#d94545" stroke-width="1.1"/>
<line x1="531.55" y1="632.50" x2="538.75" y2="632.50" stroke="#d94545" stroke-width="1.1" />
<circle cx="535.70" cy="611.20" r="2.0" fill="#f08a8a"/>
<circle cx="535.70" cy="624.10" r="2.0" fill="#f08a8a"/>
<circle cx="539.10" cy="640.10" r="2.0" fill="#f08a8a"/>
<circle cx="531.90" cy="640.80" r="2.0" fill="#f08a8a"/>
<circle cx="535.70" cy="656.80" r="2.0" fill="#f08a8a"/>
<circle cx="535.70" cy="666.80" r="2.0" fill="#f08a8a"/>
<rect x="546.50" y="645.50" width="17.00" height="42.00" fill="#fff" stroke="#ee8f96" stroke-width="1.0"/>
<line x1="554.50" y1="645.02" x2="554.50" y2="640.00" stroke="#ee8f96" stroke-width="1.1"/>
<line x1="551.25" y1="640.50" x2="558.45" y2="640.50" stroke="#ee8f96" stroke-width="1.1" />
<circle cx="555.10" cy="629.00" r="2.0" fill="#e0505e"/>
<circle cx="555.10" cy="642.30" r="2.0" fill="#e0505e"/>
<circle cx="551.30" cy="646.80" r="2.0" fill="#e0505e"/>
<circle cx="555.10" cy="654.60" r="2.0" fill="#e0505e"/>
<line x1="473.50" y1="588.40" x2="473.50" y2="688.90" stroke="#111" stroke-width="1.1" />
<line x1="472.50" y1="688.50" x2="573.50" y2="688.50" stroke="#111" stroke-width="1.1" />
<line x1="470.20" y1="688.50" x2="473.00" y2="688.50" stroke="#111" stroke-width="1" />
<text x="469.50" y="692.50" font-size="10" text-anchor="end" font-weight="normal" font-style="normal" fill="#2a2a2a" >0<tspan font-weight="bold">.</tspan>000</text>
<line x1="470.20" y1="655.50" x2="473.00" y2="655.50" stroke="#111" stroke-width="1" />
<text x="469.50" y="659.33" font-size="10" text-anchor="end" font-weight="normal" font-style="normal" fill="#2a2a2a" >0<tspan font-weight="bold">.</tspan>005</text>
<line x1="470.20" y1="622.50" x2="473.00" y2="622.50" stroke="#111" stroke-width="1" />
<text x="469.50" y="626.17" font-size="10" text-anchor="end" font-weight="normal" font-style="normal" fill="#2a2a2a" >0<tspan font-weight="bold">.</tspan>010</text>
<line x1="470.20" y1="588.50" x2="473.00" y2="588.50" stroke="#111" stroke-width="1" />
<text x="469.50" y="593.00" font-size="10" text-anchor="end" font-weight="normal" font-style="normal" fill="#2a2a2a" >0<tspan font-weight="bold">.</tspan>015</text>
<text transform="translate(427.80,639.50) rotate(-90)" font-size="11.1" text-anchor="middle" font-style="normal" fill="#222">Re<tspan font-weight="bold">l</tspan>ative Expression</text>
<text transform="translate(441.24,640.00) rotate(-90)" font-size="11.5" text-anchor="middle" font-style="italic" fill="#222">(EphA7 / Gapdh)</text>
<text x="337.80" y="699.70" font-size="10.2" text-anchor="middle" font-weight="normal" font-style="normal" fill="#222" >unsti<tspan font-weight="bold">.</tspan>24h</text>
<line x1="314.80" y1="703.50" x2="361.00" y2="703.50" stroke="#111" stroke-width="1.1" />
<text x="340.70" y="713.70" font-size="10.3" text-anchor="middle" font-weight="normal" font-style="normal" fill="#222" >WT</text>
<text x="385.00" y="699.70" font-size="10.2" text-anchor="middle" font-weight="normal" font-style="normal" fill="#222" >unsti<tspan font-weight="bold">.</tspan>24h</text>
<line x1="362.00" y1="703.50" x2="407.60" y2="703.50" stroke="#111" stroke-width="1.1" />
<text x="386.50" y="713.70" font-size="10.3" text-anchor="middle" font-weight="normal" font-style="normal" fill="#222" ><tspan font-style="italic">Ash1l</tspan><tspan font-size="6.5" dy="-4">+/-</tspan></text>
<line x1="330.50" y1="689.10" x2="330.50" y2="691.60" stroke="#111" stroke-width="0.9" />
<line x1="350.50" y1="689.10" x2="350.50" y2="691.60" stroke="#111" stroke-width="0.9" />
<line x1="375.50" y1="689.10" x2="375.50" y2="691.60" stroke="#111" stroke-width="0.9" />
<line x1="394.50" y1="689.10" x2="394.50" y2="691.60" stroke="#111" stroke-width="0.9" />
<text x="497.80" y="699.70" font-size="10.2" text-anchor="middle" font-weight="normal" font-style="normal" fill="#222" >unsti<tspan font-weight="bold">.</tspan>24h</text>
<line x1="474.80" y1="703.50" x2="521.00" y2="703.50" stroke="#111" stroke-width="1.1" />
<text x="500.70" y="713.70" font-size="10.3" text-anchor="middle" font-weight="normal" font-style="normal" fill="#222" >WT</text>
<text x="545.00" y="699.70" font-size="10.2" text-anchor="middle" font-weight="normal" font-style="normal" fill="#222" >unsti<tspan font-weight="bold">.</tspan>24h</text>
<line x1="522.00" y1="703.50" x2="567.60" y2="703.50" stroke="#111" stroke-width="1.1" />
<text x="546.50" y="713.70" font-size="10.3" text-anchor="middle" font-weight="normal" font-style="normal" fill="#222" ><tspan font-style="italic">Ash1l</tspan><tspan font-size="6.5" dy="-4">+/-</tspan></text>
<line x1="490.50" y1="689.10" x2="490.50" y2="691.60" stroke="#111" stroke-width="0.9" />
<line x1="510.50" y1="689.10" x2="510.50" y2="691.60" stroke="#111" stroke-width="0.9" />
<line x1="535.50" y1="689.10" x2="535.50" y2="691.60" stroke="#111" stroke-width="0.9" />
<line x1="554.50" y1="689.10" x2="554.50" y2="691.60" stroke="#111" stroke-width="0.9" />
<text x="615.40" y="566.10" font-size="10.2" text-anchor="middle" font-weight="normal" font-style="normal" fill="#cc3333" >Learning</text>
<path d="M639.7,567.6 L646.8,571 L642.9,575.2 L645.2,576.1 L628.4,589.4 L635.3,579.7 L633.2,579 Z" fill="#dd2a2a"/>
<ellipse cx="677" cy="579.4" rx="17" ry="8" fill="#a8d4ec"/>
<text x="677.00" y="583.60" font-size="10.4" text-anchor="middle" font-weight="bold" font-style="normal" fill="#1a1a22" >EZH2</text>
<ellipse cx="663.4" cy="657" rx="17" ry="8" fill="#a8d4ec"/>
<text x="663.40" y="661.20" font-size="10.4" text-anchor="middle" font-weight="bold" font-style="normal" fill="#1a1a22" >EZH2</text>
<text x="603.70" y="607.40" font-size="11" text-anchor="middle" font-weight="normal" font-style="normal" fill="#e890b0" >H3K27ac</text>
<text x="687.80" y="607.60" font-size="10.8" text-anchor="middle" font-weight="normal" font-style="normal" fill="#3a80c0" >H3K27me3</text>
<rect x="627" y="611" width="41.2" height="13.2" rx="2" fill="#cfe6b0"/>
<text x="648.10" y="621.50" font-size="10" text-anchor="middle" font-weight="bold" font-style="normal" fill="#3aaa4a" >ASH1L</text>
<line x1="654.00" y1="606.60" x2="662.10" y2="594.00" stroke="#e03a4a" stroke-width="1" />
<line x1="659.70" y1="592.40" x2="666.10" y2="595.60" stroke="#e03a4a" stroke-width="1" />
<line x1="650.00" y1="628.70" x2="653.70" y2="642.90" stroke="#e03a4a" stroke-width="1" />
<line x1="650.30" y1="643.80" x2="657.30" y2="642.40" stroke="#e03a4a" stroke-width="1" />
<line x1="592.00" y1="633.50" x2="727.00" y2="633.50" stroke="#111" stroke-width="1.1" />
<ellipse cx="602.00" cy="626.50" rx="5.0" ry="6.7" fill="#eee27a" stroke="#333" stroke-width="0.8"/>
<ellipse cx="606.00" cy="626.50" rx="5.0" ry="6.7" fill="#eee27a" stroke="#333" stroke-width="0.8"/>
<ellipse cx="610.30" cy="626.50" rx="5.0" ry="6.7" fill="#eee27a" stroke="#333" stroke-width="0.8"/>
<line x1="602.50" y1="610.60" x2="602.50" y2="619.80" stroke="#111" stroke-width="0.9" />
<circle cx="602.10" cy="610.60" r="2.4" fill="#d8c0c8" stroke="#333" stroke-width="0.8"/>
<line x1="610.50" y1="610.60" x2="610.50" y2="619.80" stroke="#111" stroke-width="0.9" />
<circle cx="610.20" cy="610.60" r="2.4" fill="#d8c0c8" stroke="#333" stroke-width="0.8"/>
<ellipse cx="675.50" cy="626.50" rx="5.0" ry="6.7" fill="#eee27a" stroke="#333" stroke-width="0.8"/>
<ellipse cx="679.50" cy="626.50" rx="5.0" ry="6.7" fill="#eee27a" stroke="#333" stroke-width="0.8"/>
<ellipse cx="683.80" cy="626.50" rx="5.0" ry="6.7" fill="#eee27a" stroke="#333" stroke-width="0.8"/>
<line x1="676.50" y1="610.60" x2="676.50" y2="619.80" stroke="#111" stroke-width="0.9" />
<circle cx="676.10" cy="610.60" r="2.4" fill="#a8cce8" stroke="#333" stroke-width="0.8"/>
<line x1="683.50" y1="610.60" x2="683.50" y2="619.80" stroke="#111" stroke-width="0.9" />
<circle cx="683.90" cy="610.60" r="2.4" fill="#a8cce8" stroke="#333" stroke-width="0.8"/>
<ellipse cx="697.30" cy="626.50" rx="5.0" ry="6.7" fill="#eee27a" stroke="#333" stroke-width="0.8"/>
<ellipse cx="701.30" cy="626.50" rx="5.0" ry="6.7" fill="#eee27a" stroke="#333" stroke-width="0.8"/>
<ellipse cx="705.60" cy="626.50" rx="5.0" ry="6.7" fill="#eee27a" stroke="#333" stroke-width="0.8"/>
<line x1="697.50" y1="610.60" x2="697.50" y2="619.80" stroke="#111" stroke-width="0.9" />
<circle cx="697.90" cy="610.60" r="2.4" fill="#eee27a" stroke="#333" stroke-width="0.8"/>
<line x1="705.50" y1="610.60" x2="705.50" y2="619.80" stroke="#111" stroke-width="0.9" />
<circle cx="705.60" cy="610.60" r="2.4" fill="#eee27a" stroke="#333" stroke-width="0.8"/>
<path d="M715.3,633.2 L715.3,611.5 L759.5,611.5" fill="none" stroke="#111" stroke-width="1"/>
<path d="M755.5,609 L760,611.5 L755.5,614" fill="none" stroke="#111" stroke-width="1"/>
<text x="739.70" y="604.50" font-size="10.9" text-anchor="middle" font-weight="normal" font-style="italic" fill="#222" >EphA7</text>
<text x="734.20" y="644.00" font-size="10.9" text-anchor="middle" font-weight="normal" font-style="italic" fill="#222" >EphA7 loci</text>
</svg></body></html>
